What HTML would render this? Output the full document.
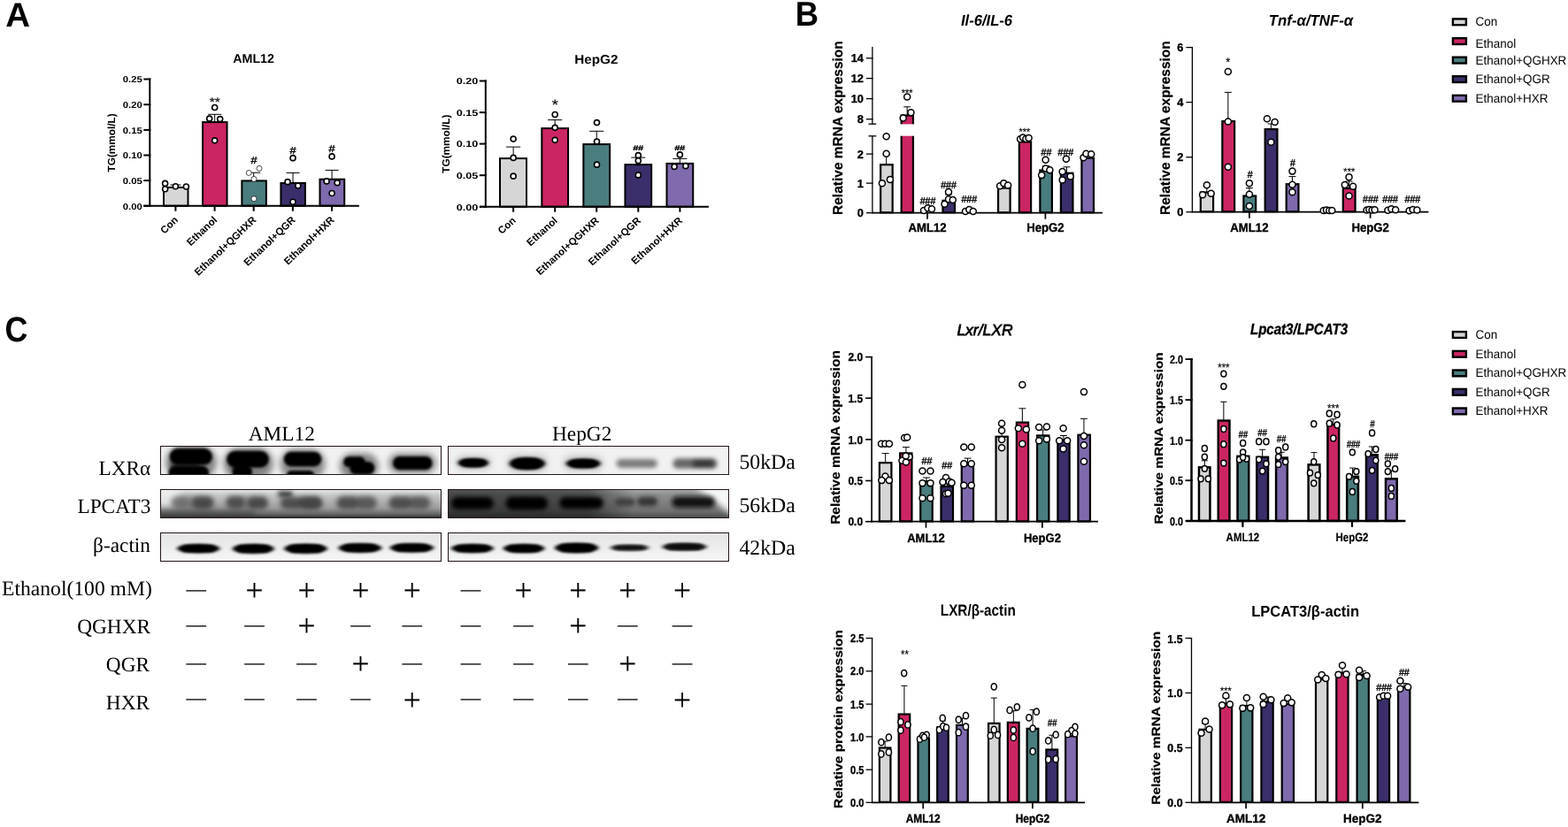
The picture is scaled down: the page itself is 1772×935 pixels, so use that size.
<!DOCTYPE html>
<html lang="en"><head><meta charset="utf-8"><title>Figure</title>
<style>
html,body{margin:0;padding:0;background:#fff;}
body{width:1772px;height:935px;overflow:hidden;}
svg{display:block;}
text{white-space:pre;text-rendering:geometricPrecision;}
</style></head>
<body>
<svg width="1772" height="935" viewBox="0 0 1772 935">
<rect x="0" y="0" width="1772" height="935" fill="#ffffff"/>
<text x="6.20" y="30.00" font-family="'Liberation Sans', sans-serif" font-size="38.5" font-weight="bold" font-style="normal" text-anchor="start" fill="#000">A</text>
<text x="0.00" y="0.00" font-family="'Liberation Sans', sans-serif" font-size="39" font-weight="bold" font-style="normal" text-anchor="start" fill="#000" transform="translate(898.80 29.20) scale(0.936 1)">B</text>
<text x="0.00" y="0.00" font-family="'Liberation Sans', sans-serif" font-size="39.8" font-weight="bold" font-style="normal" text-anchor="start" fill="#000" transform="translate(5.60 385.70) scale(0.9 1)">C</text>
<rect x="185.01" y="211.90" width="27.49" height="20.80" fill="#d6d6d6" stroke="#000" stroke-width="2"/>
<rect x="229.06" y="138.10" width="27.49" height="94.60" fill="#cc2563" stroke="#000" stroke-width="2"/>
<rect x="273.37" y="204.40" width="27.49" height="28.30" fill="#4a7d7e" stroke="#000" stroke-width="2"/>
<rect x="317.42" y="206.90" width="27.49" height="25.80" fill="#3b2e6b" stroke="#000" stroke-width="2"/>
<rect x="361.48" y="202.70" width="27.74" height="30.00" fill="#7f6aae" stroke="#000" stroke-width="2"/>
<line x1="198.37" y1="209.00" x2="198.37" y2="211.00" stroke="#000" stroke-width="1.0" stroke-linecap="butt"/>
<line x1="192.37" y1="209.00" x2="204.37" y2="209.00" stroke="#000" stroke-width="1.0" stroke-linecap="butt"/>
<line x1="242.68" y1="129.30" x2="242.68" y2="138.00" stroke="#000" stroke-width="1.0" stroke-linecap="butt"/>
<line x1="235.18" y1="129.30" x2="250.18" y2="129.30" stroke="#000" stroke-width="1.0" stroke-linecap="butt"/>
<line x1="286.73" y1="195.20" x2="286.73" y2="204.00" stroke="#000" stroke-width="1.0" stroke-linecap="butt"/>
<line x1="279.23" y1="195.20" x2="294.23" y2="195.20" stroke="#000" stroke-width="1.0" stroke-linecap="butt"/>
<line x1="331.04" y1="195.40" x2="331.04" y2="206.00" stroke="#000" stroke-width="1.0" stroke-linecap="butt"/>
<line x1="323.54" y1="195.40" x2="338.54" y2="195.40" stroke="#000" stroke-width="1.0" stroke-linecap="butt"/>
<line x1="375.09" y1="192.40" x2="375.09" y2="202.00" stroke="#000" stroke-width="1.0" stroke-linecap="butt"/>
<line x1="367.59" y1="192.40" x2="382.59" y2="192.40" stroke="#000" stroke-width="1.0" stroke-linecap="butt"/>
<line x1="169.30" y1="88.50" x2="169.30" y2="233.70" stroke="#000" stroke-width="2" stroke-linecap="butt"/>
<line x1="162.30" y1="232.70" x2="405.90" y2="232.70" stroke="#000" stroke-width="2" stroke-linecap="butt"/>
<line x1="162.30" y1="89.50" x2="170.30" y2="89.50" stroke="#000" stroke-width="2" stroke-linecap="butt"/>
<text x="160.80" y="93.30" font-family="'Liberation Sans', sans-serif" font-size="10" font-weight="bold" font-style="normal" text-anchor="end" fill="#000" textLength="22.00" lengthAdjust="spacingAndGlyphs">0.25</text>
<line x1="162.30" y1="118.20" x2="170.30" y2="118.20" stroke="#000" stroke-width="2" stroke-linecap="butt"/>
<text x="160.80" y="122.00" font-family="'Liberation Sans', sans-serif" font-size="10" font-weight="bold" font-style="normal" text-anchor="end" fill="#000" textLength="22.00" lengthAdjust="spacingAndGlyphs">0.20</text>
<line x1="162.30" y1="146.90" x2="170.30" y2="146.90" stroke="#000" stroke-width="2" stroke-linecap="butt"/>
<text x="160.80" y="150.70" font-family="'Liberation Sans', sans-serif" font-size="10" font-weight="bold" font-style="normal" text-anchor="end" fill="#000" textLength="22.00" lengthAdjust="spacingAndGlyphs">0.15</text>
<line x1="162.30" y1="175.50" x2="170.30" y2="175.50" stroke="#000" stroke-width="2" stroke-linecap="butt"/>
<text x="160.80" y="179.30" font-family="'Liberation Sans', sans-serif" font-size="10" font-weight="bold" font-style="normal" text-anchor="end" fill="#000" textLength="22.00" lengthAdjust="spacingAndGlyphs">0.10</text>
<line x1="162.30" y1="204.10" x2="170.30" y2="204.10" stroke="#000" stroke-width="2" stroke-linecap="butt"/>
<text x="160.80" y="207.90" font-family="'Liberation Sans', sans-serif" font-size="10" font-weight="bold" font-style="normal" text-anchor="end" fill="#000" textLength="22.00" lengthAdjust="spacingAndGlyphs">0.05</text>
<line x1="162.30" y1="232.70" x2="170.30" y2="232.70" stroke="#000" stroke-width="2" stroke-linecap="butt"/>
<text x="160.80" y="236.50" font-family="'Liberation Sans', sans-serif" font-size="10" font-weight="bold" font-style="normal" text-anchor="end" fill="#000" textLength="22.00" lengthAdjust="spacingAndGlyphs">0.00</text>
<line x1="198.40" y1="232.70" x2="198.40" y2="238.70" stroke="#000" stroke-width="2" stroke-linecap="butt"/>
<line x1="242.60" y1="232.70" x2="242.60" y2="238.70" stroke="#000" stroke-width="2" stroke-linecap="butt"/>
<line x1="286.70" y1="232.70" x2="286.70" y2="238.70" stroke="#000" stroke-width="2" stroke-linecap="butt"/>
<line x1="330.90" y1="232.70" x2="330.90" y2="238.70" stroke="#000" stroke-width="2" stroke-linecap="butt"/>
<line x1="375.00" y1="232.70" x2="375.00" y2="238.70" stroke="#000" stroke-width="2" stroke-linecap="butt"/>
<ellipse cx="186.61" cy="207.42" rx="3.00" ry="3.00" fill="#fff" stroke="#000" stroke-width="1.6"/>
<ellipse cx="186.61" cy="213.68" rx="3.00" ry="3.00" fill="#fff" stroke="#000" stroke-width="1.6"/>
<ellipse cx="198.37" cy="210.68" rx="3.00" ry="3.00" fill="#fff" stroke="#000" stroke-width="1.6"/>
<ellipse cx="210.39" cy="210.93" rx="3.00" ry="3.00" fill="#fff" stroke="#000" stroke-width="1.6"/>
<ellipse cx="242.68" cy="121.56" rx="3.00" ry="3.00" fill="#fff" stroke="#000" stroke-width="1.6"/>
<ellipse cx="236.67" cy="134.08" rx="3.00" ry="3.00" fill="#fff" stroke="#000" stroke-width="1.6"/>
<ellipse cx="248.69" cy="134.58" rx="3.00" ry="3.00" fill="#fff" stroke="#000" stroke-width="1.6"/>
<ellipse cx="242.68" cy="158.86" rx="3.00" ry="3.00" fill="#fff" stroke="#000" stroke-width="1.6"/>
<ellipse cx="281.23" cy="195.41" rx="3.00" ry="3.00" fill="#fff" stroke="#000" stroke-width="0.7"/>
<ellipse cx="292.99" cy="190.40" rx="3.00" ry="3.00" fill="#fff" stroke="#000" stroke-width="0.7"/>
<ellipse cx="286.98" cy="202.42" rx="3.00" ry="3.00" fill="#fff" stroke="#000" stroke-width="0.7"/>
<ellipse cx="286.98" cy="224.69" rx="3.00" ry="3.00" fill="#fff" stroke="#000" stroke-width="0.7"/>
<ellipse cx="331.04" cy="178.64" rx="3.00" ry="3.00" fill="#fff" stroke="#000" stroke-width="1.6"/>
<ellipse cx="325.03" cy="205.67" rx="3.00" ry="3.00" fill="#fff" stroke="#000" stroke-width="1.6"/>
<ellipse cx="336.80" cy="209.92" rx="3.00" ry="3.00" fill="#fff" stroke="#000" stroke-width="1.6"/>
<ellipse cx="331.04" cy="228.20" rx="3.00" ry="3.00" fill="#fff" stroke="#000" stroke-width="1.6"/>
<ellipse cx="375.09" cy="176.88" rx="3.00" ry="3.00" fill="#fff" stroke="#000" stroke-width="1.6"/>
<ellipse cx="369.09" cy="204.92" rx="3.00" ry="3.00" fill="#fff" stroke="#000" stroke-width="1.6"/>
<ellipse cx="381.10" cy="206.67" rx="3.00" ry="3.00" fill="#fff" stroke="#000" stroke-width="1.6"/>
<ellipse cx="375.09" cy="218.44" rx="3.00" ry="3.00" fill="#fff" stroke="#000" stroke-width="1.6"/>
<text x="0.00" y="0.00" font-family="'Liberation Sans', sans-serif" font-size="14.0" font-weight="normal" font-style="normal" text-anchor="middle" fill="#000" transform="translate(242.68 119.86) scale(1.1 1)" stroke="#000" stroke-width="0.15">**</text>
<text x="0.00" y="0.00" font-family="'Liberation Sans', sans-serif" font-size="11.5" font-weight="normal" font-style="normal" text-anchor="middle" fill="#000" transform="translate(286.98 185.14) scale(1.1 1)" stroke="#000" stroke-width="0.4">#</text>
<text x="0.00" y="0.00" font-family="'Liberation Sans', sans-serif" font-size="11.5" font-weight="normal" font-style="normal" text-anchor="middle" fill="#000" transform="translate(331.04 173.63) scale(1.1 1)" stroke="#000" stroke-width="0.4">#</text>
<text x="0.00" y="0.00" font-family="'Liberation Sans', sans-serif" font-size="11.5" font-weight="normal" font-style="normal" text-anchor="middle" fill="#000" transform="translate(375.09 172.13) scale(1.1 1)" stroke="#000" stroke-width="0.4">#</text>
<text x="286.60" y="70.90" font-family="'Liberation Sans', sans-serif" font-size="14.3" font-weight="bold" font-style="normal" text-anchor="middle" fill="#000">AML12</text>
<text x="0.00" y="0.00" font-family="'Liberation Sans', sans-serif" font-size="11.8" font-weight="bold" font-style="normal" text-anchor="middle" fill="#000" transform="translate(130.30 161.40) rotate(-90)">TG(mmol/L)</text>
<text x="0.00" y="0.00" font-family="'Liberation Sans', sans-serif" font-size="11.5" font-weight="bold" font-style="normal" text-anchor="end" fill="#000" transform="translate(201.90 249.50) rotate(-43.6)">Con</text>
<text x="0.00" y="0.00" font-family="'Liberation Sans', sans-serif" font-size="11.5" font-weight="bold" font-style="normal" text-anchor="end" fill="#000" transform="translate(246.10 249.50) rotate(-43.6)">Ethanol</text>
<text x="0.00" y="0.00" font-family="'Liberation Sans', sans-serif" font-size="11.5" font-weight="bold" font-style="normal" text-anchor="end" fill="#000" transform="translate(290.20 249.50) rotate(-43.6)">Ethanol+QGHXR</text>
<text x="0.00" y="0.00" font-family="'Liberation Sans', sans-serif" font-size="11.5" font-weight="bold" font-style="normal" text-anchor="end" fill="#000" transform="translate(334.40 249.50) rotate(-43.6)">Ethanol+QGR</text>
<text x="0.00" y="0.00" font-family="'Liberation Sans', sans-serif" font-size="11.5" font-weight="bold" font-style="normal" text-anchor="end" fill="#000" transform="translate(378.50 249.50) rotate(-43.6)">Ethanol+HXR</text>
<rect x="565.01" y="179.10" width="29.99" height="54.60" fill="#d6d6d6" stroke="#000" stroke-width="2"/>
<rect x="612.31" y="145.10" width="29.74" height="88.60" fill="#cc2563" stroke="#000" stroke-width="2"/>
<rect x="659.37" y="163.10" width="29.74" height="70.60" fill="#4a7d7e" stroke="#000" stroke-width="2"/>
<rect x="706.43" y="186.10" width="29.74" height="47.60" fill="#3b2e6b" stroke="#000" stroke-width="2"/>
<rect x="753.49" y="184.90" width="29.74" height="48.80" fill="#7f6aae" stroke="#000" stroke-width="2"/>
<line x1="580.13" y1="166.10" x2="580.13" y2="179.00" stroke="#000" stroke-width="1.0" stroke-linecap="butt"/>
<line x1="572.13" y1="166.10" x2="588.13" y2="166.10" stroke="#000" stroke-width="1.0" stroke-linecap="butt"/>
<line x1="627.18" y1="135.60" x2="627.18" y2="145.00" stroke="#000" stroke-width="1.0" stroke-linecap="butt"/>
<line x1="619.18" y1="135.60" x2="635.18" y2="135.60" stroke="#000" stroke-width="1.0" stroke-linecap="butt"/>
<line x1="674.24" y1="148.30" x2="674.24" y2="163.00" stroke="#000" stroke-width="1.0" stroke-linecap="butt"/>
<line x1="666.24" y1="148.30" x2="682.24" y2="148.30" stroke="#000" stroke-width="1.0" stroke-linecap="butt"/>
<line x1="721.30" y1="178.10" x2="721.30" y2="186.00" stroke="#000" stroke-width="1.0" stroke-linecap="butt"/>
<line x1="713.30" y1="178.10" x2="729.30" y2="178.10" stroke="#000" stroke-width="1.0" stroke-linecap="butt"/>
<line x1="768.36" y1="179.40" x2="768.36" y2="185.00" stroke="#000" stroke-width="1.0" stroke-linecap="butt"/>
<line x1="760.36" y1="179.40" x2="776.36" y2="179.40" stroke="#000" stroke-width="1.0" stroke-linecap="butt"/>
<line x1="548.80" y1="90.50" x2="548.80" y2="234.70" stroke="#000" stroke-width="2" stroke-linecap="butt"/>
<line x1="542.00" y1="233.70" x2="800.90" y2="233.70" stroke="#000" stroke-width="2" stroke-linecap="butt"/>
<line x1="541.80" y1="91.50" x2="549.80" y2="91.50" stroke="#000" stroke-width="2" stroke-linecap="butt"/>
<text x="540.30" y="95.30" font-family="'Liberation Sans', sans-serif" font-size="10" font-weight="bold" font-style="normal" text-anchor="end" fill="#000" textLength="24.60" lengthAdjust="spacingAndGlyphs">0.20</text>
<line x1="541.80" y1="127.10" x2="549.80" y2="127.10" stroke="#000" stroke-width="2" stroke-linecap="butt"/>
<text x="540.30" y="130.90" font-family="'Liberation Sans', sans-serif" font-size="10" font-weight="bold" font-style="normal" text-anchor="end" fill="#000" textLength="24.60" lengthAdjust="spacingAndGlyphs">0.15</text>
<line x1="541.80" y1="162.60" x2="549.80" y2="162.60" stroke="#000" stroke-width="2" stroke-linecap="butt"/>
<text x="540.30" y="166.40" font-family="'Liberation Sans', sans-serif" font-size="10" font-weight="bold" font-style="normal" text-anchor="end" fill="#000" textLength="24.60" lengthAdjust="spacingAndGlyphs">0.10</text>
<line x1="541.80" y1="198.20" x2="549.80" y2="198.20" stroke="#000" stroke-width="2" stroke-linecap="butt"/>
<text x="540.30" y="202.00" font-family="'Liberation Sans', sans-serif" font-size="10" font-weight="bold" font-style="normal" text-anchor="end" fill="#000" textLength="24.60" lengthAdjust="spacingAndGlyphs">0.05</text>
<line x1="541.80" y1="233.70" x2="549.80" y2="233.70" stroke="#000" stroke-width="2" stroke-linecap="butt"/>
<text x="540.30" y="237.50" font-family="'Liberation Sans', sans-serif" font-size="10" font-weight="bold" font-style="normal" text-anchor="end" fill="#000" textLength="24.60" lengthAdjust="spacingAndGlyphs">0.00</text>
<line x1="580.10" y1="233.70" x2="580.10" y2="239.70" stroke="#000" stroke-width="2" stroke-linecap="butt"/>
<line x1="627.20" y1="233.70" x2="627.20" y2="239.70" stroke="#000" stroke-width="2" stroke-linecap="butt"/>
<line x1="674.20" y1="233.70" x2="674.20" y2="239.70" stroke="#000" stroke-width="2" stroke-linecap="butt"/>
<line x1="721.30" y1="233.70" x2="721.30" y2="239.70" stroke="#000" stroke-width="2" stroke-linecap="butt"/>
<line x1="768.40" y1="233.70" x2="768.40" y2="239.70" stroke="#000" stroke-width="2" stroke-linecap="butt"/>
<ellipse cx="580.13" cy="157.11" rx="3.00" ry="3.00" fill="#fff" stroke="#000" stroke-width="1.6"/>
<ellipse cx="580.13" cy="178.39" rx="3.00" ry="3.00" fill="#fff" stroke="#000" stroke-width="1.6"/>
<ellipse cx="580.13" cy="199.16" rx="3.00" ry="3.00" fill="#fff" stroke="#000" stroke-width="1.6"/>
<ellipse cx="627.18" cy="129.57" rx="3.00" ry="3.00" fill="#fff" stroke="#000" stroke-width="1.6"/>
<ellipse cx="627.18" cy="144.34" rx="3.00" ry="3.00" fill="#fff" stroke="#000" stroke-width="1.6"/>
<ellipse cx="627.18" cy="158.36" rx="3.00" ry="3.00" fill="#fff" stroke="#000" stroke-width="1.6"/>
<ellipse cx="674.49" cy="138.59" rx="3.00" ry="3.00" fill="#fff" stroke="#000" stroke-width="1.6"/>
<ellipse cx="674.49" cy="160.11" rx="3.00" ry="3.00" fill="#fff" stroke="#000" stroke-width="1.6"/>
<ellipse cx="674.49" cy="186.15" rx="3.00" ry="3.00" fill="#fff" stroke="#000" stroke-width="1.6"/>
<ellipse cx="721.30" cy="175.63" rx="3.00" ry="3.00" fill="#fff" stroke="#000" stroke-width="1.6"/>
<ellipse cx="721.30" cy="181.64" rx="3.00" ry="3.00" fill="#fff" stroke="#000" stroke-width="1.6"/>
<ellipse cx="721.30" cy="197.91" rx="3.00" ry="3.00" fill="#fff" stroke="#000" stroke-width="1.6"/>
<ellipse cx="768.36" cy="174.88" rx="3.00" ry="3.00" fill="#fff" stroke="#000" stroke-width="1.6"/>
<ellipse cx="762.10" cy="188.40" rx="3.00" ry="3.00" fill="#fff" stroke="#000" stroke-width="1.6"/>
<ellipse cx="774.87" cy="187.65" rx="3.00" ry="3.00" fill="#fff" stroke="#000" stroke-width="1.6"/>
<text x="0.00" y="0.00" font-family="'Liberation Sans', sans-serif" font-size="16.52" font-weight="normal" font-style="normal" text-anchor="middle" fill="#000" transform="translate(627.18 124.12) scale(1.1 1)" stroke="#000" stroke-width="0.15">*</text>
<text x="0.00" y="0.00" font-family="'Liberation Sans', sans-serif" font-size="8" font-weight="normal" font-style="normal" text-anchor="middle" fill="#000" transform="translate(721.30 170.13) scale(1.3 1)" stroke="#000" stroke-width="0.4">##</text>
<text x="0.00" y="0.00" font-family="'Liberation Sans', sans-serif" font-size="8" font-weight="normal" font-style="normal" text-anchor="middle" fill="#000" transform="translate(768.36 170.13) scale(1.3 1)" stroke="#000" stroke-width="0.4">##</text>
<text x="0.00" y="0.00" font-family="'Liberation Sans', sans-serif" font-size="14.3" font-weight="bold" font-style="normal" text-anchor="middle" fill="#000" transform="translate(673.80 71.50) scale(1.07 1)">HepG2</text>
<text x="0.00" y="0.00" font-family="'Liberation Sans', sans-serif" font-size="11.8" font-weight="bold" font-style="normal" text-anchor="middle" fill="#000" transform="translate(508.30 162.60) rotate(-90)">TG(mmol/L)</text>
<text x="0.00" y="0.00" font-family="'Liberation Sans', sans-serif" font-size="11.5" font-weight="bold" font-style="normal" text-anchor="end" fill="#000" transform="translate(583.60 250.30) rotate(-42.3)">Con</text>
<text x="0.00" y="0.00" font-family="'Liberation Sans', sans-serif" font-size="11.5" font-weight="bold" font-style="normal" text-anchor="end" fill="#000" transform="translate(630.70 250.30) rotate(-42.3)">Ethanol</text>
<text x="0.00" y="0.00" font-family="'Liberation Sans', sans-serif" font-size="11.5" font-weight="bold" font-style="normal" text-anchor="end" fill="#000" transform="translate(677.70 250.30) rotate(-42.3)">Ethanol+QGHXR</text>
<text x="0.00" y="0.00" font-family="'Liberation Sans', sans-serif" font-size="11.5" font-weight="bold" font-style="normal" text-anchor="end" fill="#000" transform="translate(724.80 250.30) rotate(-42.3)">Ethanol+QGR</text>
<text x="0.00" y="0.00" font-family="'Liberation Sans', sans-serif" font-size="11.5" font-weight="bold" font-style="normal" text-anchor="end" fill="#000" transform="translate(771.90 250.30) rotate(-42.3)">Ethanol+HXR</text>
<rect x="995.14" y="186.20" width="13.52" height="54.05" fill="#d6d6d6" stroke="#000" stroke-width="2.2"/>
<rect x="1018.67" y="130.50" width="13.27" height="109.75" fill="#cc2563" stroke="#000" stroke-width="2.2"/>
<rect x="1065.48" y="226.80" width="13.52" height="13.45" fill="#3b2e6b" stroke="#000" stroke-width="2.2"/>
<rect x="1128.06" y="212.50" width="13.52" height="27.75" fill="#d6d6d6" stroke="#000" stroke-width="2.2"/>
<rect x="1151.84" y="160.40" width="13.27" height="79.85" fill="#cc2563" stroke="#000" stroke-width="2.2"/>
<rect x="1175.37" y="192.50" width="13.52" height="47.75" fill="#4a7d7e" stroke="#000" stroke-width="2.2"/>
<rect x="1198.90" y="195.70" width="13.52" height="44.55" fill="#3b2e6b" stroke="#000" stroke-width="2.2"/>
<rect x="1222.43" y="178.70" width="13.52" height="61.55" fill="#7f6aae" stroke="#000" stroke-width="2.2"/>
<rect x="1015.00" y="140.40" width="20.00" height="13.30" fill="#fff" stroke="none" stroke-width="0"/>
<line x1="1001.65" y1="175.00" x2="1001.65" y2="186.00" stroke="#000" stroke-width="1.0" stroke-linecap="butt"/>
<line x1="997.65" y1="175.00" x2="1005.65" y2="175.00" stroke="#000" stroke-width="1.0" stroke-linecap="butt"/>
<line x1="1025.18" y1="120.80" x2="1025.18" y2="130.00" stroke="#000" stroke-width="1.0" stroke-linecap="butt"/>
<line x1="1021.18" y1="120.80" x2="1029.18" y2="120.80" stroke="#000" stroke-width="1.0" stroke-linecap="butt"/>
<line x1="1182.13" y1="187.50" x2="1182.13" y2="192.00" stroke="#000" stroke-width="1.0" stroke-linecap="butt"/>
<line x1="1178.13" y1="187.50" x2="1186.13" y2="187.50" stroke="#000" stroke-width="1.0" stroke-linecap="butt"/>
<line x1="1205.41" y1="188.80" x2="1205.41" y2="195.00" stroke="#000" stroke-width="1.0" stroke-linecap="butt"/>
<line x1="1201.41" y1="188.80" x2="1209.41" y2="188.80" stroke="#000" stroke-width="1.0" stroke-linecap="butt"/>
<line x1="1071.99" y1="220.00" x2="1071.99" y2="226.00" stroke="#000" stroke-width="1.0" stroke-linecap="butt"/>
<line x1="1067.99" y1="220.00" x2="1075.99" y2="220.00" stroke="#000" stroke-width="1.0" stroke-linecap="butt"/>
<line x1="985.90" y1="53.00" x2="985.90" y2="140.20" stroke="#000" stroke-width="1.3" stroke-linecap="butt"/>
<line x1="985.90" y1="153.80" x2="985.90" y2="241.30" stroke="#000" stroke-width="1.3" stroke-linecap="butt"/>
<line x1="985.25" y1="240.70" x2="1246.00" y2="240.70" stroke="#000" stroke-width="1.7" stroke-linecap="butt"/>
<line x1="978.90" y1="65.80" x2="986.55" y2="65.80" stroke="#000" stroke-width="1.3" stroke-linecap="butt"/>
<text x="975.90" y="70.40" font-family="'Liberation Sans', sans-serif" font-size="12.8" font-weight="bold" font-style="normal" text-anchor="end" fill="#000" stroke="#000" stroke-width="0.35">14</text>
<line x1="978.90" y1="88.60" x2="986.55" y2="88.60" stroke="#000" stroke-width="1.3" stroke-linecap="butt"/>
<text x="975.90" y="93.20" font-family="'Liberation Sans', sans-serif" font-size="12.8" font-weight="bold" font-style="normal" text-anchor="end" fill="#000" stroke="#000" stroke-width="0.35">12</text>
<line x1="978.90" y1="111.60" x2="986.55" y2="111.60" stroke="#000" stroke-width="1.3" stroke-linecap="butt"/>
<text x="975.90" y="116.20" font-family="'Liberation Sans', sans-serif" font-size="12.8" font-weight="bold" font-style="normal" text-anchor="end" fill="#000" stroke="#000" stroke-width="0.35">10</text>
<line x1="978.90" y1="134.70" x2="986.55" y2="134.70" stroke="#000" stroke-width="1.3" stroke-linecap="butt"/>
<text x="975.90" y="139.30" font-family="'Liberation Sans', sans-serif" font-size="12.8" font-weight="bold" font-style="normal" text-anchor="end" fill="#000" stroke="#000" stroke-width="0.35">8</text>
<line x1="981.50" y1="140.20" x2="990.30" y2="140.20" stroke="#000" stroke-width="1.3" stroke-linecap="butt"/>
<line x1="981.50" y1="153.80" x2="990.30" y2="153.80" stroke="#000" stroke-width="1.3" stroke-linecap="butt"/>
<line x1="978.90" y1="174.10" x2="986.55" y2="174.10" stroke="#000" stroke-width="1.3" stroke-linecap="butt"/>
<text x="975.90" y="178.70" font-family="'Liberation Sans', sans-serif" font-size="12.8" font-weight="bold" font-style="normal" text-anchor="end" fill="#000" stroke="#000" stroke-width="0.35">2</text>
<line x1="978.90" y1="207.10" x2="986.55" y2="207.10" stroke="#000" stroke-width="1.3" stroke-linecap="butt"/>
<text x="975.90" y="211.70" font-family="'Liberation Sans', sans-serif" font-size="12.8" font-weight="bold" font-style="normal" text-anchor="end" fill="#000" stroke="#000" stroke-width="0.35">1</text>
<line x1="978.90" y1="240.70" x2="986.55" y2="240.70" stroke="#000" stroke-width="1.3" stroke-linecap="butt"/>
<text x="975.90" y="245.30" font-family="'Liberation Sans', sans-serif" font-size="12.8" font-weight="bold" font-style="normal" text-anchor="end" fill="#000" stroke="#000" stroke-width="0.35">0</text>
<line x1="1048.00" y1="240.70" x2="1048.00" y2="247.70" stroke="#000" stroke-width="1.7" stroke-linecap="butt"/>
<line x1="1181.40" y1="240.70" x2="1181.40" y2="247.70" stroke="#000" stroke-width="1.7" stroke-linecap="butt"/>
<ellipse cx="1001.65" cy="154.32" rx="3.50" ry="3.50" fill="#fff" stroke="#000" stroke-width="1.5"/>
<ellipse cx="1001.65" cy="173.84" rx="3.50" ry="3.50" fill="#fff" stroke="#000" stroke-width="1.5"/>
<ellipse cx="996.90" cy="207.13" rx="3.50" ry="3.50" fill="#fff" stroke="#000" stroke-width="1.5"/>
<ellipse cx="1005.91" cy="202.88" rx="3.50" ry="3.50" fill="#fff" stroke="#000" stroke-width="1.5"/>
<ellipse cx="1025.18" cy="109.39" rx="3.50" ry="3.50" fill="#fff" stroke="#000" stroke-width="1.5"/>
<ellipse cx="1020.68" cy="133.42" rx="3.50" ry="3.50" fill="#fff" stroke="#000" stroke-width="1.5"/>
<ellipse cx="1029.44" cy="127.16" rx="3.50" ry="3.50" fill="#fff" stroke="#000" stroke-width="1.5"/>
<ellipse cx="1043.95" cy="237.92" rx="3.50" ry="3.50" fill="#fff" stroke="#000" stroke-width="1.5"/>
<ellipse cx="1048.46" cy="235.17" rx="3.50" ry="3.50" fill="#fff" stroke="#000" stroke-width="1.5"/>
<ellipse cx="1052.97" cy="236.17" rx="3.50" ry="3.50" fill="#fff" stroke="#000" stroke-width="1.5"/>
<ellipse cx="1071.99" cy="216.90" rx="3.50" ry="3.50" fill="#fff" stroke="#000" stroke-width="1.5"/>
<ellipse cx="1067.48" cy="230.66" rx="3.50" ry="3.50" fill="#fff" stroke="#000" stroke-width="1.5"/>
<ellipse cx="1071.99" cy="225.16" rx="3.50" ry="3.50" fill="#fff" stroke="#000" stroke-width="1.5"/>
<ellipse cx="1076.75" cy="225.91" rx="3.50" ry="3.50" fill="#fff" stroke="#000" stroke-width="1.5"/>
<ellipse cx="1091.01" cy="238.92" rx="3.50" ry="3.50" fill="#fff" stroke="#000" stroke-width="1.5"/>
<ellipse cx="1095.27" cy="236.92" rx="3.50" ry="3.50" fill="#fff" stroke="#000" stroke-width="1.5"/>
<ellipse cx="1099.77" cy="238.92" rx="3.50" ry="3.50" fill="#fff" stroke="#000" stroke-width="1.5"/>
<ellipse cx="1130.06" cy="210.14" rx="3.50" ry="3.50" fill="#fff" stroke="#000" stroke-width="1.5"/>
<ellipse cx="1134.32" cy="207.13" rx="3.50" ry="3.50" fill="#fff" stroke="#000" stroke-width="1.5"/>
<ellipse cx="1139.07" cy="209.39" rx="3.50" ry="3.50" fill="#fff" stroke="#000" stroke-width="1.5"/>
<ellipse cx="1153.09" cy="157.32" rx="3.50" ry="3.50" fill="#fff" stroke="#000" stroke-width="1.5"/>
<ellipse cx="1156.10" cy="155.57" rx="3.50" ry="3.50" fill="#fff" stroke="#000" stroke-width="1.5"/>
<ellipse cx="1159.35" cy="157.07" rx="3.50" ry="3.50" fill="#fff" stroke="#000" stroke-width="1.5"/>
<ellipse cx="1162.60" cy="156.07" rx="3.50" ry="3.50" fill="#fff" stroke="#000" stroke-width="1.5"/>
<ellipse cx="1181.63" cy="180.85" rx="3.50" ry="3.50" fill="#fff" stroke="#000" stroke-width="1.5"/>
<ellipse cx="1177.12" cy="198.12" rx="3.50" ry="3.50" fill="#fff" stroke="#000" stroke-width="1.5"/>
<ellipse cx="1181.63" cy="190.61" rx="3.50" ry="3.50" fill="#fff" stroke="#000" stroke-width="1.5"/>
<ellipse cx="1186.38" cy="192.37" rx="3.50" ry="3.50" fill="#fff" stroke="#000" stroke-width="1.5"/>
<ellipse cx="1204.91" cy="179.85" rx="3.50" ry="3.50" fill="#fff" stroke="#000" stroke-width="1.5"/>
<ellipse cx="1200.65" cy="194.12" rx="3.50" ry="3.50" fill="#fff" stroke="#000" stroke-width="1.5"/>
<ellipse cx="1200.65" cy="203.38" rx="3.50" ry="3.50" fill="#fff" stroke="#000" stroke-width="1.5"/>
<ellipse cx="1209.66" cy="199.62" rx="3.50" ry="3.50" fill="#fff" stroke="#000" stroke-width="1.5"/>
<ellipse cx="1224.43" cy="178.35" rx="3.50" ry="3.50" fill="#fff" stroke="#000" stroke-width="1.5"/>
<ellipse cx="1227.43" cy="173.84" rx="3.50" ry="3.50" fill="#fff" stroke="#000" stroke-width="1.5"/>
<ellipse cx="1233.19" cy="174.34" rx="3.50" ry="3.50" fill="#fff" stroke="#000" stroke-width="1.5"/>
<text x="0.00" y="0.00" font-family="'Liberation Sans', sans-serif" font-size="12.0" font-weight="normal" font-style="normal" text-anchor="middle" fill="#000" transform="translate(1025.18 109.38) scale(0.92 1)" stroke="#000" stroke-width="0.15">***</text>
<text x="0.00" y="0.00" font-family="'Liberation Sans', sans-serif" font-size="11.5" font-weight="normal" font-style="normal" text-anchor="middle" fill="#000" transform="translate(1048.46 231.36) scale(0.92 1)" stroke="#000" stroke-width="0.4">###</text>
<text x="0.00" y="0.00" font-family="'Liberation Sans', sans-serif" font-size="11.5" font-weight="normal" font-style="normal" text-anchor="middle" fill="#000" transform="translate(1071.99 213.09) scale(0.92 1)" stroke="#000" stroke-width="0.4">###</text>
<text x="0.00" y="0.00" font-family="'Liberation Sans', sans-serif" font-size="11.5" font-weight="normal" font-style="normal" text-anchor="middle" fill="#000" transform="translate(1095.27 229.11) scale(0.92 1)" stroke="#000" stroke-width="0.4">###</text>
<text x="0.00" y="0.00" font-family="'Liberation Sans', sans-serif" font-size="12.0" font-weight="normal" font-style="normal" text-anchor="middle" fill="#000" transform="translate(1157.85 153.06) scale(0.92 1)" stroke="#000" stroke-width="0.15">***</text>
<text x="0.00" y="0.00" font-family="'Liberation Sans', sans-serif" font-size="11.5" font-weight="normal" font-style="normal" text-anchor="middle" fill="#000" transform="translate(1182.38 175.54) scale(0.92 1)" stroke="#000" stroke-width="0.4">##</text>
<text x="0.00" y="0.00" font-family="'Liberation Sans', sans-serif" font-size="11.5" font-weight="normal" font-style="normal" text-anchor="middle" fill="#000" transform="translate(1204.41 175.54) scale(0.92 1)" stroke="#000" stroke-width="0.4">###</text>
<text x="0.00" y="0.00" font-family="'Liberation Sans', sans-serif" font-size="17.5" font-weight="bold" font-style="italic" text-anchor="middle" fill="#000" transform="translate(1115.00 29.30) scale(0.95 1)">Il-6/IL-6</text>
<text x="0.00" y="0.00" font-family="'Liberation Sans', sans-serif" font-size="15.5" font-weight="bold" font-style="normal" text-anchor="middle" fill="#000" transform="translate(952.30 144.60) rotate(-90)" stroke="#000" stroke-width="0.2">Relative mRNA expression</text>
<text x="0.00" y="0.00" font-family="'Liberation Sans', sans-serif" font-size="14" font-weight="bold" font-style="normal" text-anchor="middle" fill="#000" transform="translate(1048.00 262.10) scale(0.94 1)" stroke="#000" stroke-width="0.35">AML12</text>
<text x="0.00" y="0.00" font-family="'Liberation Sans', sans-serif" font-size="14" font-weight="bold" font-style="normal" text-anchor="middle" fill="#000" transform="translate(1181.40 262.10) scale(0.94 1)" stroke="#000" stroke-width="0.35">HepG2</text>
<rect x="1356.83" y="217.50" width="14.27" height="21.75" fill="#d6d6d6" stroke="#000" stroke-width="2.2"/>
<rect x="1381.36" y="137.10" width="13.77" height="102.15" fill="#cc2563" stroke="#000" stroke-width="2.2"/>
<rect x="1405.39" y="221.50" width="13.77" height="17.75" fill="#4a7d7e" stroke="#000" stroke-width="2.2"/>
<rect x="1429.67" y="146.10" width="13.77" height="93.15" fill="#3b2e6b" stroke="#000" stroke-width="2.2"/>
<rect x="1453.70" y="208.20" width="13.77" height="31.05" fill="#7f6aae" stroke="#000" stroke-width="2.2"/>
<rect x="1517.78" y="213.00" width="13.77" height="26.25" fill="#cc2563" stroke="#000" stroke-width="2.2"/>
<line x1="1363.84" y1="210.00" x2="1363.84" y2="217.00" stroke="#000" stroke-width="1.0" stroke-linecap="butt"/>
<line x1="1359.84" y1="210.00" x2="1367.84" y2="210.00" stroke="#000" stroke-width="1.0" stroke-linecap="butt"/>
<line x1="1387.87" y1="104.40" x2="1387.87" y2="137.00" stroke="#000" stroke-width="1.0" stroke-linecap="butt"/>
<line x1="1383.87" y1="104.40" x2="1391.87" y2="104.40" stroke="#000" stroke-width="1.0" stroke-linecap="butt"/>
<line x1="1411.90" y1="212.60" x2="1411.90" y2="221.00" stroke="#000" stroke-width="1.0" stroke-linecap="butt"/>
<line x1="1407.90" y1="212.60" x2="1415.90" y2="212.60" stroke="#000" stroke-width="1.0" stroke-linecap="butt"/>
<line x1="1436.43" y1="140.00" x2="1436.43" y2="146.00" stroke="#000" stroke-width="1.0" stroke-linecap="butt"/>
<line x1="1432.43" y1="140.00" x2="1440.43" y2="140.00" stroke="#000" stroke-width="1.0" stroke-linecap="butt"/>
<line x1="1460.46" y1="199.60" x2="1460.46" y2="208.00" stroke="#000" stroke-width="1.0" stroke-linecap="butt"/>
<line x1="1456.46" y1="199.60" x2="1464.46" y2="199.60" stroke="#000" stroke-width="1.0" stroke-linecap="butt"/>
<line x1="1524.54" y1="205.00" x2="1524.54" y2="212.00" stroke="#000" stroke-width="1.0" stroke-linecap="butt"/>
<line x1="1520.54" y1="205.00" x2="1528.54" y2="205.00" stroke="#000" stroke-width="1.0" stroke-linecap="butt"/>
<line x1="1347.40" y1="53.00" x2="1347.40" y2="240.30" stroke="#000" stroke-width="1.3" stroke-linecap="butt"/>
<line x1="1346.75" y1="239.70" x2="1614.40" y2="239.70" stroke="#000" stroke-width="1.7" stroke-linecap="butt"/>
<line x1="1340.40" y1="53.60" x2="1348.05" y2="53.60" stroke="#000" stroke-width="1.3" stroke-linecap="butt"/>
<text x="1337.40" y="58.20" font-family="'Liberation Sans', sans-serif" font-size="12.8" font-weight="bold" font-style="normal" text-anchor="end" fill="#000" stroke="#000" stroke-width="0.35">6</text>
<line x1="1340.40" y1="115.60" x2="1348.05" y2="115.60" stroke="#000" stroke-width="1.3" stroke-linecap="butt"/>
<text x="1337.40" y="120.20" font-family="'Liberation Sans', sans-serif" font-size="12.8" font-weight="bold" font-style="normal" text-anchor="end" fill="#000" stroke="#000" stroke-width="0.35">4</text>
<line x1="1340.40" y1="177.70" x2="1348.05" y2="177.70" stroke="#000" stroke-width="1.3" stroke-linecap="butt"/>
<text x="1337.40" y="182.30" font-family="'Liberation Sans', sans-serif" font-size="12.8" font-weight="bold" font-style="normal" text-anchor="end" fill="#000" stroke="#000" stroke-width="0.35">2</text>
<line x1="1340.40" y1="239.70" x2="1348.05" y2="239.70" stroke="#000" stroke-width="1.3" stroke-linecap="butt"/>
<text x="1337.40" y="244.30" font-family="'Liberation Sans', sans-serif" font-size="12.8" font-weight="bold" font-style="normal" text-anchor="end" fill="#000" stroke="#000" stroke-width="0.35">0</text>
<line x1="1411.90" y1="239.70" x2="1411.90" y2="246.70" stroke="#000" stroke-width="1.7" stroke-linecap="butt"/>
<line x1="1548.60" y1="239.70" x2="1548.60" y2="246.70" stroke="#000" stroke-width="1.7" stroke-linecap="butt"/>
<ellipse cx="1363.84" cy="209.14" rx="3.50" ry="3.50" fill="#fff" stroke="#000" stroke-width="1.5"/>
<ellipse cx="1359.09" cy="220.15" rx="3.50" ry="3.50" fill="#fff" stroke="#000" stroke-width="1.5"/>
<ellipse cx="1368.60" cy="218.65" rx="3.50" ry="3.50" fill="#fff" stroke="#000" stroke-width="1.5"/>
<ellipse cx="1387.87" cy="81.10" rx="3.50" ry="3.50" fill="#fff" stroke="#000" stroke-width="1.5"/>
<ellipse cx="1387.87" cy="137.42" rx="3.50" ry="3.50" fill="#fff" stroke="#000" stroke-width="1.5"/>
<ellipse cx="1387.87" cy="188.74" rx="3.50" ry="3.50" fill="#fff" stroke="#000" stroke-width="1.5"/>
<ellipse cx="1411.90" cy="207.13" rx="3.50" ry="3.50" fill="#fff" stroke="#000" stroke-width="1.5"/>
<ellipse cx="1411.90" cy="219.65" rx="3.50" ry="3.50" fill="#fff" stroke="#000" stroke-width="1.5"/>
<ellipse cx="1411.90" cy="232.92" rx="3.50" ry="3.50" fill="#fff" stroke="#000" stroke-width="1.5"/>
<ellipse cx="1431.93" cy="134.29" rx="3.50" ry="3.50" fill="#fff" stroke="#000" stroke-width="1.5"/>
<ellipse cx="1440.69" cy="138.05" rx="3.50" ry="3.50" fill="#fff" stroke="#000" stroke-width="1.5"/>
<ellipse cx="1436.43" cy="160.83" rx="3.50" ry="3.50" fill="#fff" stroke="#000" stroke-width="1.5"/>
<ellipse cx="1460.46" cy="193.62" rx="3.50" ry="3.50" fill="#fff" stroke="#000" stroke-width="1.5"/>
<ellipse cx="1460.46" cy="208.64" rx="3.50" ry="3.50" fill="#fff" stroke="#000" stroke-width="1.5"/>
<ellipse cx="1460.46" cy="217.15" rx="3.50" ry="3.50" fill="#fff" stroke="#000" stroke-width="1.5"/>
<ellipse cx="1495.76" cy="237.92" rx="3.50" ry="3.50" fill="#fff" stroke="#000" stroke-width="1.5"/>
<ellipse cx="1499.01" cy="237.42" rx="3.50" ry="3.50" fill="#fff" stroke="#000" stroke-width="1.5"/>
<ellipse cx="1502.27" cy="237.92" rx="3.50" ry="3.50" fill="#fff" stroke="#000" stroke-width="1.5"/>
<ellipse cx="1505.27" cy="237.92" rx="3.50" ry="3.50" fill="#fff" stroke="#000" stroke-width="1.5"/>
<ellipse cx="1524.54" cy="200.13" rx="3.50" ry="3.50" fill="#fff" stroke="#000" stroke-width="1.5"/>
<ellipse cx="1519.79" cy="208.89" rx="3.50" ry="3.50" fill="#fff" stroke="#000" stroke-width="1.5"/>
<ellipse cx="1529.05" cy="210.64" rx="3.50" ry="3.50" fill="#fff" stroke="#000" stroke-width="1.5"/>
<ellipse cx="1524.54" cy="221.40" rx="3.50" ry="3.50" fill="#fff" stroke="#000" stroke-width="1.5"/>
<ellipse cx="1544.57" cy="237.42" rx="3.50" ry="3.50" fill="#fff" stroke="#000" stroke-width="1.5"/>
<ellipse cx="1547.32" cy="236.92" rx="3.50" ry="3.50" fill="#fff" stroke="#000" stroke-width="1.5"/>
<ellipse cx="1550.58" cy="237.42" rx="3.50" ry="3.50" fill="#fff" stroke="#000" stroke-width="1.5"/>
<ellipse cx="1553.58" cy="237.17" rx="3.50" ry="3.50" fill="#fff" stroke="#000" stroke-width="1.5"/>
<ellipse cx="1568.35" cy="237.67" rx="3.50" ry="3.50" fill="#fff" stroke="#000" stroke-width="1.5"/>
<ellipse cx="1572.35" cy="236.17" rx="3.50" ry="3.50" fill="#fff" stroke="#000" stroke-width="1.5"/>
<ellipse cx="1577.11" cy="237.17" rx="3.50" ry="3.50" fill="#fff" stroke="#000" stroke-width="1.5"/>
<ellipse cx="1592.63" cy="238.17" rx="3.50" ry="3.50" fill="#fff" stroke="#000" stroke-width="1.5"/>
<ellipse cx="1596.63" cy="236.92" rx="3.50" ry="3.50" fill="#fff" stroke="#000" stroke-width="1.5"/>
<ellipse cx="1601.39" cy="237.42" rx="3.50" ry="3.50" fill="#fff" stroke="#000" stroke-width="1.5"/>
<text x="0.00" y="0.00" font-family="'Liberation Sans', sans-serif" font-size="14.16" font-weight="normal" font-style="normal" text-anchor="middle" fill="#000" transform="translate(1387.87 75.14) scale(0.92 1)" stroke="#000" stroke-width="0.15">*</text>
<text x="0.00" y="0.00" font-family="'Liberation Sans', sans-serif" font-size="11.5" font-weight="normal" font-style="normal" text-anchor="middle" fill="#000" transform="translate(1412.65 200.57) scale(0.92 1)" stroke="#000" stroke-width="0.4">#</text>
<text x="0.00" y="0.00" font-family="'Liberation Sans', sans-serif" font-size="11.5" font-weight="normal" font-style="normal" text-anchor="middle" fill="#000" transform="translate(1460.96 187.56) scale(0.92 1)" stroke="#000" stroke-width="0.4">#</text>
<text x="0.00" y="0.00" font-family="'Liberation Sans', sans-serif" font-size="12.0" font-weight="normal" font-style="normal" text-anchor="middle" fill="#000" transform="translate(1524.79 197.87) scale(0.92 1)" stroke="#000" stroke-width="0.15">***</text>
<text x="0.00" y="0.00" font-family="'Liberation Sans', sans-serif" font-size="11.5" font-weight="normal" font-style="normal" text-anchor="middle" fill="#000" transform="translate(1548.82 228.61) scale(0.92 1)" stroke="#000" stroke-width="0.4">###</text>
<text x="0.00" y="0.00" font-family="'Liberation Sans', sans-serif" font-size="11.5" font-weight="normal" font-style="normal" text-anchor="middle" fill="#000" transform="translate(1571.10 228.61) scale(0.92 1)" stroke="#000" stroke-width="0.4">###</text>
<text x="0.00" y="0.00" font-family="'Liberation Sans', sans-serif" font-size="11.5" font-weight="normal" font-style="normal" text-anchor="middle" fill="#000" transform="translate(1596.38 228.61) scale(0.92 1)" stroke="#000" stroke-width="0.4">###</text>
<text x="0.00" y="0.00" font-family="'Liberation Sans', sans-serif" font-size="17.5" font-weight="bold" font-style="italic" text-anchor="middle" fill="#000" transform="translate(1481.50 29.30) scale(0.96 1)">Tnf-α/TNF-α</text>
<text x="0.00" y="0.00" font-family="'Liberation Sans', sans-serif" font-size="15.5" font-weight="bold" font-style="normal" text-anchor="middle" fill="#000" transform="translate(1322.30 144.60) rotate(-90)" stroke="#000" stroke-width="0.2">Relative mRNA expression</text>
<text x="0.00" y="0.00" font-family="'Liberation Sans', sans-serif" font-size="14" font-weight="bold" font-style="normal" text-anchor="middle" fill="#000" transform="translate(1411.90 262.10) scale(0.94 1)" stroke="#000" stroke-width="0.35">AML12</text>
<text x="0.00" y="0.00" font-family="'Liberation Sans', sans-serif" font-size="14" font-weight="bold" font-style="normal" text-anchor="middle" fill="#000" transform="translate(1548.60 262.10) scale(0.94 1)" stroke="#000" stroke-width="0.35">HepG2</text>
<rect x="993.89" y="523.20" width="13.52" height="66.20" fill="#d6d6d6" stroke="#000" stroke-width="2.2"/>
<rect x="1017.17" y="512.40" width="13.27" height="77.00" fill="#cc2563" stroke="#000" stroke-width="2.2"/>
<rect x="1040.20" y="544.20" width="13.52" height="45.20" fill="#4a7d7e" stroke="#000" stroke-width="2.2"/>
<rect x="1063.48" y="550.00" width="13.52" height="39.40" fill="#3b2e6b" stroke="#000" stroke-width="2.2"/>
<rect x="1086.76" y="525.40" width="13.27" height="64.00" fill="#7f6aae" stroke="#000" stroke-width="2.2"/>
<rect x="1125.56" y="493.70" width="13.27" height="95.70" fill="#d6d6d6" stroke="#000" stroke-width="2.2"/>
<rect x="1148.84" y="477.60" width="13.27" height="111.80" fill="#cc2563" stroke="#000" stroke-width="2.2"/>
<rect x="1172.11" y="492.40" width="13.27" height="97.00" fill="#4a7d7e" stroke="#000" stroke-width="2.2"/>
<rect x="1195.39" y="497.40" width="13.27" height="92.00" fill="#3b2e6b" stroke="#000" stroke-width="2.2"/>
<rect x="1218.42" y="491.70" width="13.52" height="97.70" fill="#7f6aae" stroke="#000" stroke-width="2.2"/>
<line x1="1000.65" y1="512.60" x2="1000.65" y2="523.00" stroke="#000" stroke-width="1.0" stroke-linecap="butt"/>
<line x1="996.65" y1="512.60" x2="1004.65" y2="512.60" stroke="#000" stroke-width="1.0" stroke-linecap="butt"/>
<line x1="1023.93" y1="505.60" x2="1023.93" y2="512.00" stroke="#000" stroke-width="1.0" stroke-linecap="butt"/>
<line x1="1019.93" y1="505.60" x2="1027.93" y2="505.60" stroke="#000" stroke-width="1.0" stroke-linecap="butt"/>
<line x1="1046.96" y1="540.00" x2="1046.96" y2="544.00" stroke="#000" stroke-width="1.0" stroke-linecap="butt"/>
<line x1="1042.96" y1="540.00" x2="1050.96" y2="540.00" stroke="#000" stroke-width="1.0" stroke-linecap="butt"/>
<line x1="1070.24" y1="545.00" x2="1070.24" y2="549.00" stroke="#000" stroke-width="1.0" stroke-linecap="butt"/>
<line x1="1066.24" y1="545.00" x2="1074.24" y2="545.00" stroke="#000" stroke-width="1.0" stroke-linecap="butt"/>
<line x1="1093.52" y1="518.10" x2="1093.52" y2="525.00" stroke="#000" stroke-width="1.0" stroke-linecap="butt"/>
<line x1="1089.52" y1="518.10" x2="1097.52" y2="518.10" stroke="#000" stroke-width="1.0" stroke-linecap="butt"/>
<line x1="1132.07" y1="488.00" x2="1132.07" y2="493.00" stroke="#000" stroke-width="1.0" stroke-linecap="butt"/>
<line x1="1128.07" y1="488.00" x2="1136.07" y2="488.00" stroke="#000" stroke-width="1.0" stroke-linecap="butt"/>
<line x1="1155.34" y1="461.80" x2="1155.34" y2="477.00" stroke="#000" stroke-width="1.0" stroke-linecap="butt"/>
<line x1="1151.34" y1="461.80" x2="1159.34" y2="461.80" stroke="#000" stroke-width="1.0" stroke-linecap="butt"/>
<line x1="1178.62" y1="486.00" x2="1178.62" y2="492.00" stroke="#000" stroke-width="1.0" stroke-linecap="butt"/>
<line x1="1174.62" y1="486.00" x2="1182.62" y2="486.00" stroke="#000" stroke-width="1.0" stroke-linecap="butt"/>
<line x1="1201.90" y1="492.50" x2="1201.90" y2="497.00" stroke="#000" stroke-width="1.0" stroke-linecap="butt"/>
<line x1="1197.90" y1="492.50" x2="1205.90" y2="492.50" stroke="#000" stroke-width="1.0" stroke-linecap="butt"/>
<line x1="1224.93" y1="473.30" x2="1224.93" y2="491.00" stroke="#000" stroke-width="1.0" stroke-linecap="butt"/>
<line x1="1220.93" y1="473.30" x2="1228.93" y2="473.30" stroke="#000" stroke-width="1.0" stroke-linecap="butt"/>
<line x1="985.10" y1="403.10" x2="985.10" y2="590.30" stroke="#000" stroke-width="1.6" stroke-linecap="butt"/>
<line x1="984.30" y1="589.70" x2="1241.00" y2="589.70" stroke="#000" stroke-width="1.8" stroke-linecap="butt"/>
<line x1="978.10" y1="403.60" x2="985.90" y2="403.60" stroke="#000" stroke-width="1.6" stroke-linecap="butt"/>
<text x="0.00" y="0.00" font-family="'Liberation Sans', sans-serif" font-size="13" font-weight="bold" font-style="normal" text-anchor="end" fill="#000" transform="translate(975.10 408.20) scale(0.92 1)" stroke="#000" stroke-width="0.35">2.0</text>
<line x1="978.10" y1="450.10" x2="985.90" y2="450.10" stroke="#000" stroke-width="1.6" stroke-linecap="butt"/>
<text x="0.00" y="0.00" font-family="'Liberation Sans', sans-serif" font-size="13" font-weight="bold" font-style="normal" text-anchor="end" fill="#000" transform="translate(975.10 454.70) scale(0.92 1)" stroke="#000" stroke-width="0.35">1.5</text>
<line x1="978.10" y1="496.90" x2="985.90" y2="496.90" stroke="#000" stroke-width="1.6" stroke-linecap="butt"/>
<text x="0.00" y="0.00" font-family="'Liberation Sans', sans-serif" font-size="13" font-weight="bold" font-style="normal" text-anchor="end" fill="#000" transform="translate(975.10 501.50) scale(0.92 1)" stroke="#000" stroke-width="0.35">1.0</text>
<line x1="978.10" y1="543.50" x2="985.90" y2="543.50" stroke="#000" stroke-width="1.6" stroke-linecap="butt"/>
<text x="0.00" y="0.00" font-family="'Liberation Sans', sans-serif" font-size="13" font-weight="bold" font-style="normal" text-anchor="end" fill="#000" transform="translate(975.10 548.10) scale(0.92 1)" stroke="#000" stroke-width="0.35">0.5</text>
<line x1="978.10" y1="589.70" x2="985.90" y2="589.70" stroke="#000" stroke-width="1.6" stroke-linecap="butt"/>
<text x="0.00" y="0.00" font-family="'Liberation Sans', sans-serif" font-size="13" font-weight="bold" font-style="normal" text-anchor="end" fill="#000" transform="translate(975.10 594.30) scale(0.92 1)" stroke="#000" stroke-width="0.35">0.0</text>
<line x1="1046.50" y1="589.70" x2="1046.50" y2="596.70" stroke="#000" stroke-width="1.7" stroke-linecap="butt"/>
<line x1="1177.90" y1="589.70" x2="1177.90" y2="596.70" stroke="#000" stroke-width="1.7" stroke-linecap="butt"/>
<ellipse cx="996.02" cy="501.81" rx="3.50" ry="3.50" fill="#fff" stroke="#000" stroke-width="1.5"/>
<ellipse cx="1000.40" cy="501.81" rx="3.50" ry="3.50" fill="#fff" stroke="#000" stroke-width="1.5"/>
<ellipse cx="1004.91" cy="501.81" rx="3.50" ry="3.50" fill="#fff" stroke="#000" stroke-width="1.5"/>
<ellipse cx="1000.40" cy="538.61" rx="3.50" ry="3.50" fill="#fff" stroke="#000" stroke-width="1.5"/>
<ellipse cx="996.40" cy="543.12" rx="3.50" ry="3.50" fill="#fff" stroke="#000" stroke-width="1.5"/>
<ellipse cx="1004.91" cy="543.12" rx="3.50" ry="3.50" fill="#fff" stroke="#000" stroke-width="1.5"/>
<ellipse cx="1022.18" cy="495.06" rx="3.50" ry="3.50" fill="#fff" stroke="#000" stroke-width="1.5"/>
<ellipse cx="1025.18" cy="494.56" rx="3.50" ry="3.50" fill="#fff" stroke="#000" stroke-width="1.5"/>
<ellipse cx="1019.42" cy="520.84" rx="3.50" ry="3.50" fill="#fff" stroke="#000" stroke-width="1.5"/>
<ellipse cx="1023.93" cy="522.59" rx="3.50" ry="3.50" fill="#fff" stroke="#000" stroke-width="1.5"/>
<ellipse cx="1027.68" cy="516.58" rx="3.50" ry="3.50" fill="#fff" stroke="#000" stroke-width="1.5"/>
<ellipse cx="1023.68" cy="515.58" rx="3.50" ry="3.50" fill="#fff" stroke="#000" stroke-width="1.5"/>
<ellipse cx="1042.45" cy="532.60" rx="3.50" ry="3.50" fill="#fff" stroke="#000" stroke-width="1.5"/>
<ellipse cx="1051.46" cy="532.60" rx="3.50" ry="3.50" fill="#fff" stroke="#000" stroke-width="1.5"/>
<ellipse cx="1042.45" cy="546.37" rx="3.50" ry="3.50" fill="#fff" stroke="#000" stroke-width="1.5"/>
<ellipse cx="1051.46" cy="546.37" rx="3.50" ry="3.50" fill="#fff" stroke="#000" stroke-width="1.5"/>
<ellipse cx="1042.45" cy="563.14" rx="3.50" ry="3.50" fill="#fff" stroke="#000" stroke-width="1.5"/>
<ellipse cx="1051.46" cy="563.14" rx="3.50" ry="3.50" fill="#fff" stroke="#000" stroke-width="1.5"/>
<ellipse cx="1068.99" cy="540.11" rx="3.50" ry="3.50" fill="#fff" stroke="#000" stroke-width="1.5"/>
<ellipse cx="1065.48" cy="545.12" rx="3.50" ry="3.50" fill="#fff" stroke="#000" stroke-width="1.5"/>
<ellipse cx="1072.74" cy="544.62" rx="3.50" ry="3.50" fill="#fff" stroke="#000" stroke-width="1.5"/>
<ellipse cx="1075.49" cy="545.87" rx="3.50" ry="3.50" fill="#fff" stroke="#000" stroke-width="1.5"/>
<ellipse cx="1068.99" cy="558.14" rx="3.50" ry="3.50" fill="#fff" stroke="#000" stroke-width="1.5"/>
<ellipse cx="1071.49" cy="557.63" rx="3.50" ry="3.50" fill="#fff" stroke="#000" stroke-width="1.5"/>
<ellipse cx="1089.26" cy="505.57" rx="3.50" ry="3.50" fill="#fff" stroke="#000" stroke-width="1.5"/>
<ellipse cx="1097.77" cy="505.57" rx="3.50" ry="3.50" fill="#fff" stroke="#000" stroke-width="1.5"/>
<ellipse cx="1089.26" cy="524.34" rx="3.50" ry="3.50" fill="#fff" stroke="#000" stroke-width="1.5"/>
<ellipse cx="1097.77" cy="524.34" rx="3.50" ry="3.50" fill="#fff" stroke="#000" stroke-width="1.5"/>
<ellipse cx="1089.26" cy="548.87" rx="3.50" ry="3.50" fill="#fff" stroke="#000" stroke-width="1.5"/>
<ellipse cx="1097.77" cy="548.87" rx="3.50" ry="3.50" fill="#fff" stroke="#000" stroke-width="1.5"/>
<ellipse cx="1132.07" cy="478.79" rx="3.50" ry="3.50" fill="#fff" stroke="#000" stroke-width="1.5"/>
<ellipse cx="1132.07" cy="486.80" rx="3.50" ry="3.50" fill="#fff" stroke="#000" stroke-width="1.5"/>
<ellipse cx="1132.07" cy="497.06" rx="3.50" ry="3.50" fill="#fff" stroke="#000" stroke-width="1.5"/>
<ellipse cx="1132.07" cy="506.32" rx="3.50" ry="3.50" fill="#fff" stroke="#000" stroke-width="1.5"/>
<ellipse cx="1155.34" cy="435.11" rx="3.50" ry="3.50" fill="#fff" stroke="#000" stroke-width="1.5"/>
<ellipse cx="1150.84" cy="484.29" rx="3.50" ry="3.50" fill="#fff" stroke="#000" stroke-width="1.5"/>
<ellipse cx="1159.85" cy="485.54" rx="3.50" ry="3.50" fill="#fff" stroke="#000" stroke-width="1.5"/>
<ellipse cx="1155.34" cy="501.81" rx="3.50" ry="3.50" fill="#fff" stroke="#000" stroke-width="1.5"/>
<ellipse cx="1174.12" cy="483.04" rx="3.50" ry="3.50" fill="#fff" stroke="#000" stroke-width="1.5"/>
<ellipse cx="1182.88" cy="482.54" rx="3.50" ry="3.50" fill="#fff" stroke="#000" stroke-width="1.5"/>
<ellipse cx="1174.12" cy="498.31" rx="3.50" ry="3.50" fill="#fff" stroke="#000" stroke-width="1.5"/>
<ellipse cx="1182.88" cy="496.56" rx="3.50" ry="3.50" fill="#fff" stroke="#000" stroke-width="1.5"/>
<ellipse cx="1201.65" cy="484.29" rx="3.50" ry="3.50" fill="#fff" stroke="#000" stroke-width="1.5"/>
<ellipse cx="1197.15" cy="498.31" rx="3.50" ry="3.50" fill="#fff" stroke="#000" stroke-width="1.5"/>
<ellipse cx="1206.16" cy="498.31" rx="3.50" ry="3.50" fill="#fff" stroke="#000" stroke-width="1.5"/>
<ellipse cx="1201.65" cy="507.57" rx="3.50" ry="3.50" fill="#fff" stroke="#000" stroke-width="1.5"/>
<ellipse cx="1224.93" cy="443.12" rx="3.50" ry="3.50" fill="#fff" stroke="#000" stroke-width="1.5"/>
<ellipse cx="1224.93" cy="493.05" rx="3.50" ry="3.50" fill="#fff" stroke="#000" stroke-width="1.5"/>
<ellipse cx="1224.93" cy="503.32" rx="3.50" ry="3.50" fill="#fff" stroke="#000" stroke-width="1.5"/>
<ellipse cx="1224.93" cy="521.84" rx="3.50" ry="3.50" fill="#fff" stroke="#000" stroke-width="1.5"/>
<text x="0.00" y="0.00" font-family="'Liberation Sans', sans-serif" font-size="11.5" font-weight="normal" font-style="normal" text-anchor="middle" fill="#000" transform="translate(1047.46 525.04) scale(0.92 1)" stroke="#000" stroke-width="0.4">##</text>
<text x="0.00" y="0.00" font-family="'Liberation Sans', sans-serif" font-size="11.5" font-weight="normal" font-style="normal" text-anchor="middle" fill="#000" transform="translate(1070.24 530.30) scale(0.92 1)" stroke="#000" stroke-width="0.4">##</text>
<text x="1113.00" y="379.30" font-family="'Liberation Sans', sans-serif" font-size="17.5" font-weight="normal" font-style="italic" text-anchor="middle" fill="#000" stroke="#000" stroke-width="0.75">Lxr/LXR</text>
<text x="0.00" y="0.00" font-family="'Liberation Sans', sans-serif" font-size="14.5" font-weight="bold" font-style="normal" text-anchor="middle" fill="#000" transform="translate(949.00 494.50) rotate(-90) scale(1.069 1)" stroke="#000" stroke-width="0.2">Relative mRNA expression</text>
<text x="0.00" y="0.00" font-family="'Liberation Sans', sans-serif" font-size="14" font-weight="bold" font-style="normal" text-anchor="middle" fill="#000" transform="translate(1046.50 612.70) scale(0.93 1)" stroke="#000" stroke-width="0.35">AML12</text>
<text x="0.00" y="0.00" font-family="'Liberation Sans', sans-serif" font-size="14" font-weight="bold" font-style="normal" text-anchor="middle" fill="#000" transform="translate(1177.90 612.70) scale(0.93 1)" stroke="#000" stroke-width="0.35">HepG2</text>
<rect x="1354.98" y="528.35" width="12.47" height="60.55" fill="#d6d6d6" stroke="#000" stroke-width="2.5"/>
<rect x="1376.76" y="475.55" width="12.72" height="113.35" fill="#cc2563" stroke="#000" stroke-width="2.5"/>
<rect x="1398.53" y="515.85" width="12.72" height="73.05" fill="#4a7d7e" stroke="#000" stroke-width="2.5"/>
<rect x="1420.31" y="516.85" width="12.72" height="72.05" fill="#3b2e6b" stroke="#000" stroke-width="2.5"/>
<rect x="1442.09" y="517.55" width="12.72" height="71.35" fill="#7f6aae" stroke="#000" stroke-width="2.5"/>
<rect x="1478.63" y="525.35" width="12.72" height="63.55" fill="#d6d6d6" stroke="#000" stroke-width="2.5"/>
<rect x="1500.41" y="480.05" width="12.72" height="108.85" fill="#cc2563" stroke="#000" stroke-width="2.5"/>
<rect x="1522.19" y="538.85" width="12.72" height="50.05" fill="#4a7d7e" stroke="#000" stroke-width="2.5"/>
<rect x="1543.97" y="514.35" width="12.72" height="74.55" fill="#3b2e6b" stroke="#000" stroke-width="2.5"/>
<rect x="1565.99" y="541.35" width="12.72" height="47.55" fill="#7f6aae" stroke="#000" stroke-width="2.5"/>
<line x1="1361.34" y1="520.80" x2="1361.34" y2="528.00" stroke="#000" stroke-width="1.0" stroke-linecap="butt"/>
<line x1="1357.84" y1="520.80" x2="1364.84" y2="520.80" stroke="#000" stroke-width="1.0" stroke-linecap="butt"/>
<line x1="1382.87" y1="454.30" x2="1382.87" y2="475.00" stroke="#000" stroke-width="1.0" stroke-linecap="butt"/>
<line x1="1379.37" y1="454.30" x2="1386.37" y2="454.30" stroke="#000" stroke-width="1.0" stroke-linecap="butt"/>
<line x1="1404.89" y1="510.00" x2="1404.89" y2="515.00" stroke="#000" stroke-width="1.0" stroke-linecap="butt"/>
<line x1="1401.39" y1="510.00" x2="1408.39" y2="510.00" stroke="#000" stroke-width="1.0" stroke-linecap="butt"/>
<line x1="1426.67" y1="508.30" x2="1426.67" y2="516.00" stroke="#000" stroke-width="1.0" stroke-linecap="butt"/>
<line x1="1423.17" y1="508.30" x2="1430.17" y2="508.30" stroke="#000" stroke-width="1.0" stroke-linecap="butt"/>
<line x1="1448.20" y1="511.30" x2="1448.20" y2="517.00" stroke="#000" stroke-width="1.0" stroke-linecap="butt"/>
<line x1="1444.70" y1="511.30" x2="1451.70" y2="511.30" stroke="#000" stroke-width="1.0" stroke-linecap="butt"/>
<line x1="1484.99" y1="511.60" x2="1484.99" y2="525.00" stroke="#000" stroke-width="1.0" stroke-linecap="butt"/>
<line x1="1481.49" y1="511.60" x2="1488.49" y2="511.60" stroke="#000" stroke-width="1.0" stroke-linecap="butt"/>
<line x1="1506.77" y1="473.80" x2="1506.77" y2="479.00" stroke="#000" stroke-width="1.0" stroke-linecap="butt"/>
<line x1="1503.27" y1="473.80" x2="1510.27" y2="473.80" stroke="#000" stroke-width="1.0" stroke-linecap="butt"/>
<line x1="1528.55" y1="529.10" x2="1528.55" y2="538.00" stroke="#000" stroke-width="1.0" stroke-linecap="butt"/>
<line x1="1525.05" y1="529.10" x2="1532.05" y2="529.10" stroke="#000" stroke-width="1.0" stroke-linecap="butt"/>
<line x1="1550.33" y1="505.00" x2="1550.33" y2="514.00" stroke="#000" stroke-width="1.0" stroke-linecap="butt"/>
<line x1="1546.83" y1="505.00" x2="1553.83" y2="505.00" stroke="#000" stroke-width="1.0" stroke-linecap="butt"/>
<line x1="1572.35" y1="532.00" x2="1572.35" y2="541.00" stroke="#000" stroke-width="1.0" stroke-linecap="butt"/>
<line x1="1568.85" y1="532.00" x2="1575.85" y2="532.00" stroke="#000" stroke-width="1.0" stroke-linecap="butt"/>
<line x1="1346.50" y1="405.10" x2="1346.50" y2="589.80" stroke="#000" stroke-width="2.5" stroke-linecap="butt"/>
<line x1="1340.00" y1="588.90" x2="1588.40" y2="588.90" stroke="#000" stroke-width="2.5" stroke-linecap="butt"/>
<line x1="1339.50" y1="406.10" x2="1347.75" y2="406.10" stroke="#000" stroke-width="1.8" stroke-linecap="butt"/>
<text x="0.00" y="0.00" font-family="'Liberation Sans', sans-serif" font-size="13.2" font-weight="bold" font-style="normal" text-anchor="end" fill="#000" transform="translate(1337.00 411.10) scale(0.82 1)" stroke="#000" stroke-width="0.2">2.0</text>
<line x1="1339.50" y1="452.10" x2="1347.75" y2="452.10" stroke="#000" stroke-width="1.8" stroke-linecap="butt"/>
<text x="0.00" y="0.00" font-family="'Liberation Sans', sans-serif" font-size="13.2" font-weight="bold" font-style="normal" text-anchor="end" fill="#000" transform="translate(1337.00 457.10) scale(0.82 1)" stroke="#000" stroke-width="0.2">1.5</text>
<line x1="1339.50" y1="497.70" x2="1347.75" y2="497.70" stroke="#000" stroke-width="1.8" stroke-linecap="butt"/>
<text x="0.00" y="0.00" font-family="'Liberation Sans', sans-serif" font-size="13.2" font-weight="bold" font-style="normal" text-anchor="end" fill="#000" transform="translate(1337.00 502.70) scale(0.82 1)" stroke="#000" stroke-width="0.2">1.0</text>
<line x1="1339.50" y1="543.20" x2="1347.75" y2="543.20" stroke="#000" stroke-width="1.8" stroke-linecap="butt"/>
<text x="0.00" y="0.00" font-family="'Liberation Sans', sans-serif" font-size="13.2" font-weight="bold" font-style="normal" text-anchor="end" fill="#000" transform="translate(1337.00 548.20) scale(0.82 1)" stroke="#000" stroke-width="0.2">0.5</text>
<line x1="1339.50" y1="588.90" x2="1347.75" y2="588.90" stroke="#000" stroke-width="1.8" stroke-linecap="butt"/>
<text x="0.00" y="0.00" font-family="'Liberation Sans', sans-serif" font-size="13.2" font-weight="bold" font-style="normal" text-anchor="end" fill="#000" transform="translate(1337.00 593.90) scale(0.82 1)" stroke="#000" stroke-width="0.2">0.0</text>
<line x1="1404.40" y1="588.90" x2="1404.40" y2="595.90" stroke="#000" stroke-width="2.2" stroke-linecap="butt"/>
<line x1="1528.00" y1="588.90" x2="1528.00" y2="595.90" stroke="#000" stroke-width="2.2" stroke-linecap="butt"/>
<ellipse cx="1361.34" cy="507.07" rx="3.00" ry="3.45" fill="#fff" stroke="#000" stroke-width="1.5"/>
<ellipse cx="1361.34" cy="516.58" rx="3.00" ry="3.45" fill="#fff" stroke="#000" stroke-width="1.5"/>
<ellipse cx="1361.34" cy="529.85" rx="3.00" ry="3.45" fill="#fff" stroke="#000" stroke-width="1.5"/>
<ellipse cx="1357.08" cy="541.36" rx="3.00" ry="3.45" fill="#fff" stroke="#000" stroke-width="1.5"/>
<ellipse cx="1365.34" cy="541.36" rx="3.00" ry="3.45" fill="#fff" stroke="#000" stroke-width="1.5"/>
<ellipse cx="1382.87" cy="422.59" rx="3.00" ry="3.45" fill="#fff" stroke="#000" stroke-width="1.5"/>
<ellipse cx="1382.87" cy="436.86" rx="3.00" ry="3.45" fill="#fff" stroke="#000" stroke-width="1.5"/>
<ellipse cx="1382.87" cy="485.04" rx="3.00" ry="3.45" fill="#fff" stroke="#000" stroke-width="1.5"/>
<ellipse cx="1382.87" cy="502.32" rx="3.00" ry="3.45" fill="#fff" stroke="#000" stroke-width="1.5"/>
<ellipse cx="1382.87" cy="523.59" rx="3.00" ry="3.45" fill="#fff" stroke="#000" stroke-width="1.5"/>
<ellipse cx="1404.64" cy="501.06" rx="3.00" ry="3.45" fill="#fff" stroke="#000" stroke-width="1.5"/>
<ellipse cx="1404.64" cy="511.33" rx="3.00" ry="3.45" fill="#fff" stroke="#000" stroke-width="1.5"/>
<ellipse cx="1400.64" cy="519.59" rx="3.00" ry="3.45" fill="#fff" stroke="#000" stroke-width="1.5"/>
<ellipse cx="1408.65" cy="518.84" rx="3.00" ry="3.45" fill="#fff" stroke="#000" stroke-width="1.5"/>
<ellipse cx="1404.64" cy="517.08" rx="3.00" ry="3.45" fill="#fff" stroke="#000" stroke-width="1.5"/>
<ellipse cx="1422.67" cy="499.31" rx="3.00" ry="3.45" fill="#fff" stroke="#000" stroke-width="1.5"/>
<ellipse cx="1430.93" cy="499.31" rx="3.00" ry="3.45" fill="#fff" stroke="#000" stroke-width="1.5"/>
<ellipse cx="1422.67" cy="519.59" rx="3.00" ry="3.45" fill="#fff" stroke="#000" stroke-width="1.5"/>
<ellipse cx="1430.93" cy="524.34" rx="3.00" ry="3.45" fill="#fff" stroke="#000" stroke-width="1.5"/>
<ellipse cx="1426.67" cy="532.60" rx="3.00" ry="3.45" fill="#fff" stroke="#000" stroke-width="1.5"/>
<ellipse cx="1444.69" cy="509.32" rx="3.00" ry="3.45" fill="#fff" stroke="#000" stroke-width="1.5"/>
<ellipse cx="1452.70" cy="505.57" rx="3.00" ry="3.45" fill="#fff" stroke="#000" stroke-width="1.5"/>
<ellipse cx="1444.69" cy="516.58" rx="3.00" ry="3.45" fill="#fff" stroke="#000" stroke-width="1.5"/>
<ellipse cx="1444.69" cy="525.09" rx="3.00" ry="3.45" fill="#fff" stroke="#000" stroke-width="1.5"/>
<ellipse cx="1452.70" cy="522.09" rx="3.00" ry="3.45" fill="#fff" stroke="#000" stroke-width="1.5"/>
<ellipse cx="1484.74" cy="479.29" rx="3.00" ry="3.45" fill="#fff" stroke="#000" stroke-width="1.5"/>
<ellipse cx="1484.74" cy="522.09" rx="3.00" ry="3.45" fill="#fff" stroke="#000" stroke-width="1.5"/>
<ellipse cx="1480.49" cy="534.61" rx="3.00" ry="3.45" fill="#fff" stroke="#000" stroke-width="1.5"/>
<ellipse cx="1489.25" cy="537.11" rx="3.00" ry="3.45" fill="#fff" stroke="#000" stroke-width="1.5"/>
<ellipse cx="1484.74" cy="546.37" rx="3.00" ry="3.45" fill="#fff" stroke="#000" stroke-width="1.5"/>
<ellipse cx="1502.27" cy="467.52" rx="3.00" ry="3.45" fill="#fff" stroke="#000" stroke-width="1.5"/>
<ellipse cx="1511.03" cy="468.77" rx="3.00" ry="3.45" fill="#fff" stroke="#000" stroke-width="1.5"/>
<ellipse cx="1502.27" cy="478.79" rx="3.00" ry="3.45" fill="#fff" stroke="#000" stroke-width="1.5"/>
<ellipse cx="1511.03" cy="480.54" rx="3.00" ry="3.45" fill="#fff" stroke="#000" stroke-width="1.5"/>
<ellipse cx="1506.77" cy="495.56" rx="3.00" ry="3.45" fill="#fff" stroke="#000" stroke-width="1.5"/>
<ellipse cx="1528.30" cy="511.33" rx="3.00" ry="3.45" fill="#fff" stroke="#000" stroke-width="1.5"/>
<ellipse cx="1532.80" cy="533.10" rx="3.00" ry="3.45" fill="#fff" stroke="#000" stroke-width="1.5"/>
<ellipse cx="1524.54" cy="538.86" rx="3.00" ry="3.45" fill="#fff" stroke="#000" stroke-width="1.5"/>
<ellipse cx="1532.80" cy="543.87" rx="3.00" ry="3.45" fill="#fff" stroke="#000" stroke-width="1.5"/>
<ellipse cx="1528.30" cy="555.88" rx="3.00" ry="3.45" fill="#fff" stroke="#000" stroke-width="1.5"/>
<ellipse cx="1550.58" cy="489.55" rx="3.00" ry="3.45" fill="#fff" stroke="#000" stroke-width="1.5"/>
<ellipse cx="1554.83" cy="508.07" rx="3.00" ry="3.45" fill="#fff" stroke="#000" stroke-width="1.5"/>
<ellipse cx="1546.07" cy="513.08" rx="3.00" ry="3.45" fill="#fff" stroke="#000" stroke-width="1.5"/>
<ellipse cx="1554.83" cy="520.59" rx="3.00" ry="3.45" fill="#fff" stroke="#000" stroke-width="1.5"/>
<ellipse cx="1550.58" cy="531.85" rx="3.00" ry="3.45" fill="#fff" stroke="#000" stroke-width="1.5"/>
<ellipse cx="1568.35" cy="524.34" rx="3.00" ry="3.45" fill="#fff" stroke="#000" stroke-width="1.5"/>
<ellipse cx="1576.61" cy="530.10" rx="3.00" ry="3.45" fill="#fff" stroke="#000" stroke-width="1.5"/>
<ellipse cx="1568.35" cy="533.10" rx="3.00" ry="3.45" fill="#fff" stroke="#000" stroke-width="1.5"/>
<ellipse cx="1572.35" cy="551.88" rx="3.00" ry="3.45" fill="#fff" stroke="#000" stroke-width="1.5"/>
<ellipse cx="1572.35" cy="560.89" rx="3.00" ry="3.45" fill="#fff" stroke="#000" stroke-width="1.5"/>
<text x="0.00" y="0.00" font-family="'Liberation Sans', sans-serif" font-size="13.5" font-weight="normal" font-style="normal" text-anchor="middle" fill="#000" transform="translate(1382.87 420.28) scale(0.85 1)" stroke="#000" stroke-width="0.15">***</text>
<text x="0.00" y="0.00" font-family="'Liberation Sans', sans-serif" font-size="11.5" font-weight="normal" font-style="normal" text-anchor="middle" fill="#000" transform="translate(1404.89 494.76) scale(0.8 1)" stroke="#000" stroke-width="0.4">##</text>
<text x="0.00" y="0.00" font-family="'Liberation Sans', sans-serif" font-size="11.5" font-weight="normal" font-style="normal" text-anchor="middle" fill="#000" transform="translate(1426.67 492.75) scale(0.8 1)" stroke="#000" stroke-width="0.4">##</text>
<text x="0.00" y="0.00" font-family="'Liberation Sans', sans-serif" font-size="11.5" font-weight="normal" font-style="normal" text-anchor="middle" fill="#000" transform="translate(1448.20 499.76) scale(0.8 1)" stroke="#000" stroke-width="0.4">##</text>
<text x="0.00" y="0.00" font-family="'Liberation Sans', sans-serif" font-size="13.5" font-weight="normal" font-style="normal" text-anchor="middle" fill="#000" transform="translate(1506.77 465.72) scale(0.85 1)" stroke="#000" stroke-width="0.15">***</text>
<text x="0.00" y="0.00" font-family="'Liberation Sans', sans-serif" font-size="11.5" font-weight="normal" font-style="normal" text-anchor="middle" fill="#000" transform="translate(1529.55 506.02) scale(0.8 1)" stroke="#000" stroke-width="0.4">###</text>
<text x="0.00" y="0.00" font-family="'Liberation Sans', sans-serif" font-size="11.5" font-weight="normal" font-style="normal" text-anchor="middle" fill="#000" transform="translate(1551.08 483.49) scale(0.8 1)" stroke="#000" stroke-width="0.4">#</text>
<text x="0.00" y="0.00" font-family="'Liberation Sans', sans-serif" font-size="11.5" font-weight="normal" font-style="normal" text-anchor="middle" fill="#000" transform="translate(1572.35 519.79) scale(0.8 1)" stroke="#000" stroke-width="0.4">###</text>
<text x="0.00" y="0.00" font-family="'Liberation Sans', sans-serif" font-size="17.5" font-weight="bold" font-style="italic" text-anchor="middle" fill="#000" transform="translate(1468.00 378.10) scale(0.86 1)" stroke="#000" stroke-width="0.35">Lpcat3/LPCAT3</text>
<text x="0.00" y="0.00" font-family="'Liberation Sans', sans-serif" font-size="13.2" font-weight="bold" font-style="normal" text-anchor="middle" fill="#000" transform="translate(1313.60 495.50) rotate(-90) scale(1.16 1)" stroke="#000" stroke-width="0.2">Relative mRNA expression</text>
<text x="0.00" y="0.00" font-family="'Liberation Sans', sans-serif" font-size="13.5" font-weight="bold" font-style="normal" text-anchor="middle" fill="#000" transform="translate(1404.40 612.00) scale(0.85 1)" stroke="#000" stroke-width="0.2">AML12</text>
<text x="0.00" y="0.00" font-family="'Liberation Sans', sans-serif" font-size="13.5" font-weight="bold" font-style="normal" text-anchor="middle" fill="#000" transform="translate(1528.00 612.00) scale(0.85 1)" stroke="#000" stroke-width="0.2">HepG2</text>
<rect x="993.89" y="845.50" width="12.52" height="61.35" fill="#d6d6d6" stroke="#000" stroke-width="2.2"/>
<rect x="1015.67" y="807.50" width="12.52" height="99.35" fill="#cc2563" stroke="#000" stroke-width="2.2"/>
<rect x="1037.45" y="834.80" width="12.52" height="72.05" fill="#4a7d7e" stroke="#000" stroke-width="2.2"/>
<rect x="1059.22" y="822.30" width="12.52" height="84.55" fill="#3b2e6b" stroke="#000" stroke-width="2.2"/>
<rect x="1081.00" y="819.80" width="12.77" height="87.05" fill="#7f6aae" stroke="#000" stroke-width="2.2"/>
<rect x="1117.05" y="817.80" width="12.52" height="89.05" fill="#d6d6d6" stroke="#000" stroke-width="2.2"/>
<rect x="1138.82" y="816.80" width="12.77" height="90.05" fill="#cc2563" stroke="#000" stroke-width="2.2"/>
<rect x="1160.60" y="823.80" width="12.77" height="83.05" fill="#4a7d7e" stroke="#000" stroke-width="2.2"/>
<rect x="1182.38" y="847.50" width="12.77" height="59.35" fill="#3b2e6b" stroke="#000" stroke-width="2.2"/>
<rect x="1204.15" y="832.30" width="12.77" height="74.55" fill="#7f6aae" stroke="#000" stroke-width="2.2"/>
<line x1="1000.15" y1="838.00" x2="1000.15" y2="845.00" stroke="#000" stroke-width="1.0" stroke-linecap="butt"/>
<line x1="996.65" y1="838.00" x2="1003.65" y2="838.00" stroke="#000" stroke-width="1.0" stroke-linecap="butt"/>
<line x1="1021.93" y1="775.30" x2="1021.93" y2="807.00" stroke="#000" stroke-width="1.0" stroke-linecap="butt"/>
<line x1="1018.43" y1="775.30" x2="1025.43" y2="775.30" stroke="#000" stroke-width="1.0" stroke-linecap="butt"/>
<line x1="1065.48" y1="815.00" x2="1065.48" y2="822.00" stroke="#000" stroke-width="1.0" stroke-linecap="butt"/>
<line x1="1061.98" y1="815.00" x2="1068.98" y2="815.00" stroke="#000" stroke-width="1.0" stroke-linecap="butt"/>
<line x1="1087.51" y1="812.00" x2="1087.51" y2="819.00" stroke="#000" stroke-width="1.0" stroke-linecap="butt"/>
<line x1="1084.01" y1="812.00" x2="1091.01" y2="812.00" stroke="#000" stroke-width="1.0" stroke-linecap="butt"/>
<line x1="1123.30" y1="789.10" x2="1123.30" y2="817.00" stroke="#000" stroke-width="1.0" stroke-linecap="butt"/>
<line x1="1119.80" y1="789.10" x2="1126.80" y2="789.10" stroke="#000" stroke-width="1.0" stroke-linecap="butt"/>
<line x1="1145.33" y1="803.60" x2="1145.33" y2="816.00" stroke="#000" stroke-width="1.0" stroke-linecap="butt"/>
<line x1="1141.83" y1="803.60" x2="1148.83" y2="803.60" stroke="#000" stroke-width="1.0" stroke-linecap="butt"/>
<line x1="1167.11" y1="802.40" x2="1167.11" y2="823.00" stroke="#000" stroke-width="1.0" stroke-linecap="butt"/>
<line x1="1163.61" y1="802.40" x2="1170.61" y2="802.40" stroke="#000" stroke-width="1.0" stroke-linecap="butt"/>
<line x1="1188.89" y1="831.20" x2="1188.89" y2="847.00" stroke="#000" stroke-width="1.0" stroke-linecap="butt"/>
<line x1="1185.39" y1="831.20" x2="1192.39" y2="831.20" stroke="#000" stroke-width="1.0" stroke-linecap="butt"/>
<line x1="985.60" y1="721.00" x2="985.60" y2="907.90" stroke="#000" stroke-width="1.3" stroke-linecap="butt"/>
<line x1="984.95" y1="907.30" x2="1226.00" y2="907.30" stroke="#000" stroke-width="1.7" stroke-linecap="butt"/>
<line x1="978.60" y1="721.50" x2="986.25" y2="721.50" stroke="#000" stroke-width="1.3" stroke-linecap="butt"/>
<text x="0.00" y="0.00" font-family="'Liberation Sans', sans-serif" font-size="13" font-weight="bold" font-style="normal" text-anchor="end" fill="#000" transform="translate(976.40 726.10) scale(0.85 1)" stroke="#000" stroke-width="0.35">2.5</text>
<line x1="978.60" y1="758.80" x2="986.25" y2="758.80" stroke="#000" stroke-width="1.3" stroke-linecap="butt"/>
<text x="0.00" y="0.00" font-family="'Liberation Sans', sans-serif" font-size="13" font-weight="bold" font-style="normal" text-anchor="end" fill="#000" transform="translate(976.40 763.40) scale(0.85 1)" stroke="#000" stroke-width="0.35">2.0</text>
<line x1="978.60" y1="796.10" x2="986.25" y2="796.10" stroke="#000" stroke-width="1.3" stroke-linecap="butt"/>
<text x="0.00" y="0.00" font-family="'Liberation Sans', sans-serif" font-size="13" font-weight="bold" font-style="normal" text-anchor="end" fill="#000" transform="translate(976.40 800.70) scale(0.85 1)" stroke="#000" stroke-width="0.35">1.5</text>
<line x1="978.60" y1="832.90" x2="986.25" y2="832.90" stroke="#000" stroke-width="1.3" stroke-linecap="butt"/>
<text x="0.00" y="0.00" font-family="'Liberation Sans', sans-serif" font-size="13" font-weight="bold" font-style="normal" text-anchor="end" fill="#000" transform="translate(976.40 837.50) scale(0.85 1)" stroke="#000" stroke-width="0.35">1.0</text>
<line x1="978.60" y1="870.20" x2="986.25" y2="870.20" stroke="#000" stroke-width="1.3" stroke-linecap="butt"/>
<text x="0.00" y="0.00" font-family="'Liberation Sans', sans-serif" font-size="13" font-weight="bold" font-style="normal" text-anchor="end" fill="#000" transform="translate(976.40 874.80) scale(0.85 1)" stroke="#000" stroke-width="0.35">0.5</text>
<line x1="978.60" y1="907.30" x2="986.25" y2="907.30" stroke="#000" stroke-width="1.3" stroke-linecap="butt"/>
<text x="0.00" y="0.00" font-family="'Liberation Sans', sans-serif" font-size="13" font-weight="bold" font-style="normal" text-anchor="end" fill="#000" transform="translate(976.40 911.90) scale(0.85 1)" stroke="#000" stroke-width="0.35">0.0</text>
<line x1="1043.20" y1="907.30" x2="1043.20" y2="914.30" stroke="#000" stroke-width="1.7" stroke-linecap="butt"/>
<line x1="1166.90" y1="907.30" x2="1166.90" y2="914.30" stroke="#000" stroke-width="1.7" stroke-linecap="butt"/>
<ellipse cx="995.89" cy="839.17" rx="3.05" ry="3.70" fill="#fff" stroke="#000" stroke-width="1.5"/>
<ellipse cx="1004.41" cy="833.67" rx="3.05" ry="3.70" fill="#fff" stroke="#000" stroke-width="1.5"/>
<ellipse cx="995.89" cy="852.44" rx="3.05" ry="3.70" fill="#fff" stroke="#000" stroke-width="1.5"/>
<ellipse cx="1004.41" cy="850.44" rx="3.05" ry="3.70" fill="#fff" stroke="#000" stroke-width="1.5"/>
<ellipse cx="1021.68" cy="761.08" rx="3.05" ry="3.70" fill="#fff" stroke="#000" stroke-width="1.5"/>
<ellipse cx="1017.92" cy="816.14" rx="3.05" ry="3.70" fill="#fff" stroke="#000" stroke-width="1.5"/>
<ellipse cx="1025.93" cy="819.40" rx="3.05" ry="3.70" fill="#fff" stroke="#000" stroke-width="1.5"/>
<ellipse cx="1017.92" cy="825.66" rx="3.05" ry="3.70" fill="#fff" stroke="#000" stroke-width="1.5"/>
<ellipse cx="1039.45" cy="835.67" rx="3.05" ry="3.70" fill="#fff" stroke="#000" stroke-width="1.5"/>
<ellipse cx="1042.70" cy="831.91" rx="3.05" ry="3.70" fill="#fff" stroke="#000" stroke-width="1.5"/>
<ellipse cx="1047.21" cy="830.91" rx="3.05" ry="3.70" fill="#fff" stroke="#000" stroke-width="1.5"/>
<ellipse cx="1044.46" cy="833.67" rx="3.05" ry="3.70" fill="#fff" stroke="#000" stroke-width="1.5"/>
<ellipse cx="1065.23" cy="811.89" rx="3.05" ry="3.70" fill="#fff" stroke="#000" stroke-width="1.5"/>
<ellipse cx="1061.48" cy="825.16" rx="3.05" ry="3.70" fill="#fff" stroke="#000" stroke-width="1.5"/>
<ellipse cx="1065.73" cy="821.15" rx="3.05" ry="3.70" fill="#fff" stroke="#000" stroke-width="1.5"/>
<ellipse cx="1069.49" cy="822.65" rx="3.05" ry="3.70" fill="#fff" stroke="#000" stroke-width="1.5"/>
<ellipse cx="1083.25" cy="813.64" rx="3.05" ry="3.70" fill="#fff" stroke="#000" stroke-width="1.5"/>
<ellipse cx="1091.51" cy="809.14" rx="3.05" ry="3.70" fill="#fff" stroke="#000" stroke-width="1.5"/>
<ellipse cx="1091.51" cy="821.65" rx="3.05" ry="3.70" fill="#fff" stroke="#000" stroke-width="1.5"/>
<ellipse cx="1083.25" cy="828.16" rx="3.05" ry="3.70" fill="#fff" stroke="#000" stroke-width="1.5"/>
<ellipse cx="1123.30" cy="776.34" rx="3.05" ry="3.70" fill="#fff" stroke="#000" stroke-width="1.5"/>
<ellipse cx="1123.30" cy="824.90" rx="3.05" ry="3.70" fill="#fff" stroke="#000" stroke-width="1.5"/>
<ellipse cx="1119.30" cy="831.66" rx="3.05" ry="3.70" fill="#fff" stroke="#000" stroke-width="1.5"/>
<ellipse cx="1127.56" cy="830.91" rx="3.05" ry="3.70" fill="#fff" stroke="#000" stroke-width="1.5"/>
<ellipse cx="1141.08" cy="802.88" rx="3.05" ry="3.70" fill="#fff" stroke="#000" stroke-width="1.5"/>
<ellipse cx="1149.34" cy="799.37" rx="3.05" ry="3.70" fill="#fff" stroke="#000" stroke-width="1.5"/>
<ellipse cx="1145.33" cy="825.41" rx="3.05" ry="3.70" fill="#fff" stroke="#000" stroke-width="1.5"/>
<ellipse cx="1145.33" cy="833.92" rx="3.05" ry="3.70" fill="#fff" stroke="#000" stroke-width="1.5"/>
<ellipse cx="1162.85" cy="811.39" rx="3.05" ry="3.70" fill="#fff" stroke="#000" stroke-width="1.5"/>
<ellipse cx="1171.36" cy="804.63" rx="3.05" ry="3.70" fill="#fff" stroke="#000" stroke-width="1.5"/>
<ellipse cx="1167.11" cy="823.65" rx="3.05" ry="3.70" fill="#fff" stroke="#000" stroke-width="1.5"/>
<ellipse cx="1167.11" cy="849.44" rx="3.05" ry="3.70" fill="#fff" stroke="#000" stroke-width="1.5"/>
<ellipse cx="1193.14" cy="830.66" rx="3.05" ry="3.70" fill="#fff" stroke="#000" stroke-width="1.5"/>
<ellipse cx="1184.63" cy="837.42" rx="3.05" ry="3.70" fill="#fff" stroke="#000" stroke-width="1.5"/>
<ellipse cx="1184.63" cy="858.70" rx="3.05" ry="3.70" fill="#fff" stroke="#000" stroke-width="1.5"/>
<ellipse cx="1193.14" cy="858.20" rx="3.05" ry="3.70" fill="#fff" stroke="#000" stroke-width="1.5"/>
<ellipse cx="1214.92" cy="821.90" rx="3.05" ry="3.70" fill="#fff" stroke="#000" stroke-width="1.5"/>
<ellipse cx="1210.91" cy="826.16" rx="3.05" ry="3.70" fill="#fff" stroke="#000" stroke-width="1.5"/>
<ellipse cx="1206.66" cy="830.16" rx="3.05" ry="3.70" fill="#fff" stroke="#000" stroke-width="1.5"/>
<ellipse cx="1214.92" cy="829.41" rx="3.05" ry="3.70" fill="#fff" stroke="#000" stroke-width="1.5"/>
<text x="0.00" y="0.00" font-family="'Liberation Sans', sans-serif" font-size="13.0" font-weight="normal" font-style="normal" text-anchor="middle" fill="#000" transform="translate(1022.43 744.00) scale(0.88 1)" stroke="#000" stroke-width="0.15">**</text>
<text x="0.00" y="0.00" font-family="'Liberation Sans', sans-serif" font-size="11.5" font-weight="normal" font-style="normal" text-anchor="middle" fill="#000" transform="translate(1189.14 820.60) scale(0.8 1)" stroke="#000" stroke-width="0.4">##</text>
<text x="0.00" y="0.00" font-family="'Liberation Sans', sans-serif" font-size="18" font-weight="bold" font-style="normal" text-anchor="middle" fill="#000" transform="translate(1105.30 696.20) scale(0.85 1)">LXR/β-actin</text>
<text x="0.00" y="0.00" font-family="'Liberation Sans', sans-serif" font-size="13.5" font-weight="bold" font-style="normal" text-anchor="middle" fill="#000" transform="translate(951.60 813.00) rotate(-90) scale(1.145 1)" stroke="#000" stroke-width="0.2">Relative protein expression</text>
<text x="0.00" y="0.00" font-family="'Liberation Sans', sans-serif" font-size="13.5" font-weight="bold" font-style="normal" text-anchor="middle" fill="#000" transform="translate(1043.20 930.00) scale(0.88 1)" stroke="#000" stroke-width="0.35">AML12</text>
<text x="0.00" y="0.00" font-family="'Liberation Sans', sans-serif" font-size="13.5" font-weight="bold" font-style="normal" text-anchor="middle" fill="#000" transform="translate(1166.90 930.00) scale(0.88 1)" stroke="#000" stroke-width="0.35">HepG2</text>
<rect x="1355.58" y="824.80" width="13.27" height="82.05" fill="#d6d6d6" stroke="#000" stroke-width="2.2"/>
<rect x="1378.86" y="795.50" width="13.27" height="111.35" fill="#cc2563" stroke="#000" stroke-width="2.2"/>
<rect x="1402.14" y="798.00" width="13.27" height="108.85" fill="#4a7d7e" stroke="#000" stroke-width="2.2"/>
<rect x="1425.42" y="793.50" width="13.27" height="113.35" fill="#3b2e6b" stroke="#000" stroke-width="2.2"/>
<rect x="1448.70" y="796.00" width="13.27" height="110.85" fill="#7f6aae" stroke="#000" stroke-width="2.2"/>
<rect x="1487.00" y="768.20" width="13.27" height="138.65" fill="#d6d6d6" stroke="#000" stroke-width="2.2"/>
<rect x="1510.27" y="760.70" width="13.27" height="146.15" fill="#cc2563" stroke="#000" stroke-width="2.2"/>
<rect x="1533.55" y="762.70" width="13.27" height="144.15" fill="#4a7d7e" stroke="#000" stroke-width="2.2"/>
<rect x="1556.83" y="788.50" width="13.27" height="118.35" fill="#3b2e6b" stroke="#000" stroke-width="2.2"/>
<rect x="1580.11" y="776.70" width="13.27" height="130.15" fill="#7f6aae" stroke="#000" stroke-width="2.2"/>
<line x1="1362.09" y1="818.00" x2="1362.09" y2="824.00" stroke="#000" stroke-width="1.0" stroke-linecap="butt"/>
<line x1="1358.09" y1="818.00" x2="1366.09" y2="818.00" stroke="#000" stroke-width="1.0" stroke-linecap="butt"/>
<line x1="1385.37" y1="789.00" x2="1385.37" y2="795.00" stroke="#000" stroke-width="1.0" stroke-linecap="butt"/>
<line x1="1381.37" y1="789.00" x2="1389.37" y2="789.00" stroke="#000" stroke-width="1.0" stroke-linecap="butt"/>
<line x1="1408.90" y1="790.00" x2="1408.90" y2="797.00" stroke="#000" stroke-width="1.0" stroke-linecap="butt"/>
<line x1="1404.90" y1="790.00" x2="1412.90" y2="790.00" stroke="#000" stroke-width="1.0" stroke-linecap="butt"/>
<line x1="1432.18" y1="788.00" x2="1432.18" y2="793.00" stroke="#000" stroke-width="1.0" stroke-linecap="butt"/>
<line x1="1428.18" y1="788.00" x2="1436.18" y2="788.00" stroke="#000" stroke-width="1.0" stroke-linecap="butt"/>
<line x1="1517.03" y1="753.00" x2="1517.03" y2="760.00" stroke="#000" stroke-width="1.0" stroke-linecap="butt"/>
<line x1="1513.03" y1="753.00" x2="1521.03" y2="753.00" stroke="#000" stroke-width="1.0" stroke-linecap="butt"/>
<line x1="1540.31" y1="758.60" x2="1540.31" y2="762.00" stroke="#000" stroke-width="1.0" stroke-linecap="butt"/>
<line x1="1536.81" y1="758.60" x2="1543.81" y2="758.60" stroke="#000" stroke-width="1.0" stroke-linecap="butt"/>
<line x1="1586.87" y1="772.60" x2="1586.87" y2="776.00" stroke="#000" stroke-width="1.0" stroke-linecap="butt"/>
<line x1="1583.37" y1="772.60" x2="1590.37" y2="772.60" stroke="#000" stroke-width="1.0" stroke-linecap="butt"/>
<line x1="1346.50" y1="721.00" x2="1346.50" y2="907.90" stroke="#000" stroke-width="1.3" stroke-linecap="butt"/>
<line x1="1345.85" y1="907.30" x2="1603.40" y2="907.30" stroke="#000" stroke-width="1.7" stroke-linecap="butt"/>
<line x1="1339.50" y1="721.50" x2="1347.15" y2="721.50" stroke="#000" stroke-width="1.3" stroke-linecap="butt"/>
<text x="0.00" y="0.00" font-family="'Liberation Sans', sans-serif" font-size="13" font-weight="bold" font-style="normal" text-anchor="end" fill="#000" transform="translate(1336.50 726.50) scale(0.95 1)" stroke="#000" stroke-width="0.35">1.5</text>
<line x1="1339.50" y1="783.40" x2="1347.15" y2="783.40" stroke="#000" stroke-width="1.3" stroke-linecap="butt"/>
<text x="0.00" y="0.00" font-family="'Liberation Sans', sans-serif" font-size="13" font-weight="bold" font-style="normal" text-anchor="end" fill="#000" transform="translate(1336.50 788.40) scale(0.95 1)" stroke="#000" stroke-width="0.35">1.0</text>
<line x1="1339.50" y1="845.40" x2="1347.15" y2="845.40" stroke="#000" stroke-width="1.3" stroke-linecap="butt"/>
<text x="0.00" y="0.00" font-family="'Liberation Sans', sans-serif" font-size="13" font-weight="bold" font-style="normal" text-anchor="end" fill="#000" transform="translate(1336.50 850.40) scale(0.95 1)" stroke="#000" stroke-width="0.35">0.5</text>
<line x1="1339.50" y1="907.30" x2="1347.15" y2="907.30" stroke="#000" stroke-width="1.3" stroke-linecap="butt"/>
<text x="0.00" y="0.00" font-family="'Liberation Sans', sans-serif" font-size="13" font-weight="bold" font-style="normal" text-anchor="end" fill="#000" transform="translate(1336.50 912.30) scale(0.95 1)" stroke="#000" stroke-width="0.35">0.0</text>
<line x1="1408.10" y1="907.30" x2="1408.10" y2="914.30" stroke="#000" stroke-width="1.7" stroke-linecap="butt"/>
<line x1="1539.80" y1="907.30" x2="1539.80" y2="914.30" stroke="#000" stroke-width="1.7" stroke-linecap="butt"/>
<ellipse cx="1362.09" cy="815.39" rx="3.50" ry="3.50" fill="#fff" stroke="#000" stroke-width="1.5"/>
<ellipse cx="1366.60" cy="824.40" rx="3.50" ry="3.50" fill="#fff" stroke="#000" stroke-width="1.5"/>
<ellipse cx="1357.58" cy="828.66" rx="3.50" ry="3.50" fill="#fff" stroke="#000" stroke-width="1.5"/>
<ellipse cx="1385.37" cy="786.61" rx="3.50" ry="3.50" fill="#fff" stroke="#000" stroke-width="1.5"/>
<ellipse cx="1381.11" cy="797.37" rx="3.50" ry="3.50" fill="#fff" stroke="#000" stroke-width="1.5"/>
<ellipse cx="1389.87" cy="796.37" rx="3.50" ry="3.50" fill="#fff" stroke="#000" stroke-width="1.5"/>
<ellipse cx="1408.90" cy="789.11" rx="3.50" ry="3.50" fill="#fff" stroke="#000" stroke-width="1.5"/>
<ellipse cx="1404.39" cy="800.87" rx="3.50" ry="3.50" fill="#fff" stroke="#000" stroke-width="1.5"/>
<ellipse cx="1413.15" cy="800.37" rx="3.50" ry="3.50" fill="#fff" stroke="#000" stroke-width="1.5"/>
<ellipse cx="1427.67" cy="787.86" rx="3.50" ry="3.50" fill="#fff" stroke="#000" stroke-width="1.5"/>
<ellipse cx="1436.43" cy="791.36" rx="3.50" ry="3.50" fill="#fff" stroke="#000" stroke-width="1.5"/>
<ellipse cx="1427.67" cy="796.37" rx="3.50" ry="3.50" fill="#fff" stroke="#000" stroke-width="1.5"/>
<ellipse cx="1455.21" cy="789.36" rx="3.50" ry="3.50" fill="#fff" stroke="#000" stroke-width="1.5"/>
<ellipse cx="1450.70" cy="795.12" rx="3.50" ry="3.50" fill="#fff" stroke="#000" stroke-width="1.5"/>
<ellipse cx="1459.71" cy="794.37" rx="3.50" ry="3.50" fill="#fff" stroke="#000" stroke-width="1.5"/>
<ellipse cx="1493.75" cy="763.08" rx="3.50" ry="3.50" fill="#fff" stroke="#000" stroke-width="1.5"/>
<ellipse cx="1489.25" cy="768.58" rx="3.50" ry="3.50" fill="#fff" stroke="#000" stroke-width="1.5"/>
<ellipse cx="1498.26" cy="767.08" rx="3.50" ry="3.50" fill="#fff" stroke="#000" stroke-width="1.5"/>
<ellipse cx="1517.03" cy="752.31" rx="3.50" ry="3.50" fill="#fff" stroke="#000" stroke-width="1.5"/>
<ellipse cx="1512.53" cy="762.83" rx="3.50" ry="3.50" fill="#fff" stroke="#000" stroke-width="1.5"/>
<ellipse cx="1521.54" cy="762.33" rx="3.50" ry="3.50" fill="#fff" stroke="#000" stroke-width="1.5"/>
<ellipse cx="1536.06" cy="757.82" rx="3.50" ry="3.50" fill="#fff" stroke="#000" stroke-width="1.5"/>
<ellipse cx="1544.57" cy="764.08" rx="3.50" ry="3.50" fill="#fff" stroke="#000" stroke-width="1.5"/>
<ellipse cx="1536.06" cy="766.08" rx="3.50" ry="3.50" fill="#fff" stroke="#000" stroke-width="1.5"/>
<ellipse cx="1559.09" cy="788.36" rx="3.50" ry="3.50" fill="#fff" stroke="#000" stroke-width="1.5"/>
<ellipse cx="1563.59" cy="786.86" rx="3.50" ry="3.50" fill="#fff" stroke="#000" stroke-width="1.5"/>
<ellipse cx="1568.10" cy="786.86" rx="3.50" ry="3.50" fill="#fff" stroke="#000" stroke-width="1.5"/>
<ellipse cx="1582.37" cy="769.84" rx="3.50" ry="3.50" fill="#fff" stroke="#000" stroke-width="1.5"/>
<ellipse cx="1591.13" cy="776.84" rx="3.50" ry="3.50" fill="#fff" stroke="#000" stroke-width="1.5"/>
<ellipse cx="1582.37" cy="778.85" rx="3.50" ry="3.50" fill="#fff" stroke="#000" stroke-width="1.5"/>
<text x="0.00" y="0.00" font-family="'Liberation Sans', sans-serif" font-size="12.0" font-weight="normal" font-style="normal" text-anchor="middle" fill="#000" transform="translate(1385.37 785.10) scale(0.92 1)" stroke="#000" stroke-width="0.15">***</text>
<text x="0.00" y="0.00" font-family="'Liberation Sans', sans-serif" font-size="11.5" font-weight="normal" font-style="normal" text-anchor="middle" fill="#000" transform="translate(1564.09 780.55) scale(0.92 1)" stroke="#000" stroke-width="0.4">###</text>
<text x="0.00" y="0.00" font-family="'Liberation Sans', sans-serif" font-size="11.5" font-weight="normal" font-style="normal" text-anchor="middle" fill="#000" transform="translate(1586.87 764.28) scale(0.92 1)" stroke="#000" stroke-width="0.4">##</text>
<text x="0.00" y="0.00" font-family="'Liberation Sans', sans-serif" font-size="17.5" font-weight="bold" font-style="normal" text-anchor="middle" fill="#000" transform="translate(1475.10 696.50) scale(0.945 1)">LPCAT3/β-actin</text>
<text x="0.00" y="0.00" font-family="'Liberation Sans', sans-serif" font-size="13.5" font-weight="bold" font-style="normal" text-anchor="middle" fill="#000" transform="translate(1310.50 811.80) rotate(-90) scale(1.143 1)" stroke="#000" stroke-width="0.2">Relative mRNA expression</text>
<text x="1408.10" y="930.00" font-family="'Liberation Sans', sans-serif" font-size="13.5" font-weight="bold" font-style="normal" text-anchor="middle" fill="#000" stroke="#000" stroke-width="0.35">AML12</text>
<text x="1539.80" y="930.00" font-family="'Liberation Sans', sans-serif" font-size="13.5" font-weight="bold" font-style="normal" text-anchor="middle" fill="#000" stroke="#000" stroke-width="0.35">HepG2</text>
<rect x="1641.90" y="21.40" width="15.00" height="6.80" fill="#d6d6d6" stroke="#000" stroke-width="2.4"/>
<text x="0.00" y="0.00" font-family="'Liberation Sans', sans-serif" font-size="14" font-weight="normal" font-style="normal" text-anchor="start" fill="#000" transform="translate(1667.60 29.20) scale(0.96 1)">Con</text>
<rect x="1641.90" y="43.20" width="15.00" height="6.80" fill="#cc2563" stroke="#000" stroke-width="2.4"/>
<text x="0.00" y="0.00" font-family="'Liberation Sans', sans-serif" font-size="14" font-weight="normal" font-style="normal" text-anchor="start" fill="#000" transform="translate(1667.60 53.50) scale(0.96 1)">Ethanol</text>
<rect x="1641.90" y="64.70" width="15.00" height="6.80" fill="#4a7d7e" stroke="#000" stroke-width="2.4"/>
<text x="0.00" y="0.00" font-family="'Liberation Sans', sans-serif" font-size="14" font-weight="normal" font-style="normal" text-anchor="start" fill="#000" transform="translate(1667.60 72.50) scale(0.96 1)">Ethanol+QGHXR</text>
<rect x="1641.90" y="86.20" width="15.00" height="6.80" fill="#3b2e6b" stroke="#000" stroke-width="2.4"/>
<text x="0.00" y="0.00" font-family="'Liberation Sans', sans-serif" font-size="14" font-weight="normal" font-style="normal" text-anchor="start" fill="#000" transform="translate(1667.60 94.10) scale(0.96 1)">Ethanol+QGR</text>
<rect x="1641.90" y="107.85" width="15.00" height="6.80" fill="#7f6aae" stroke="#000" stroke-width="2.4"/>
<text x="0.00" y="0.00" font-family="'Liberation Sans', sans-serif" font-size="14" font-weight="normal" font-style="normal" text-anchor="start" fill="#000" transform="translate(1667.60 115.70) scale(0.96 1)">Ethanol+HXR</text>
<rect x="1641.90" y="375.10" width="15.00" height="6.80" fill="#d6d6d6" stroke="#000" stroke-width="2.4"/>
<text x="0.00" y="0.00" font-family="'Liberation Sans', sans-serif" font-size="14" font-weight="normal" font-style="normal" text-anchor="start" fill="#000" transform="translate(1667.60 382.80) scale(0.96 1)">Con</text>
<rect x="1641.90" y="396.90" width="15.00" height="6.80" fill="#cc2563" stroke="#000" stroke-width="2.4"/>
<text x="0.00" y="0.00" font-family="'Liberation Sans', sans-serif" font-size="14" font-weight="normal" font-style="normal" text-anchor="start" fill="#000" transform="translate(1667.60 404.70) scale(0.96 1)">Ethanol</text>
<rect x="1641.90" y="418.50" width="15.00" height="6.80" fill="#4a7d7e" stroke="#000" stroke-width="2.4"/>
<text x="0.00" y="0.00" font-family="'Liberation Sans', sans-serif" font-size="14" font-weight="normal" font-style="normal" text-anchor="start" fill="#000" transform="translate(1667.60 426.40) scale(0.96 1)">Ethanol+QGHXR</text>
<rect x="1641.90" y="439.90" width="15.00" height="6.80" fill="#3b2e6b" stroke="#000" stroke-width="2.4"/>
<text x="0.00" y="0.00" font-family="'Liberation Sans', sans-serif" font-size="14" font-weight="normal" font-style="normal" text-anchor="start" fill="#000" transform="translate(1667.60 447.90) scale(0.96 1)">Ethanol+QGR</text>
<rect x="1641.90" y="461.50" width="15.00" height="6.80" fill="#7f6aae" stroke="#000" stroke-width="2.4"/>
<text x="0.00" y="0.00" font-family="'Liberation Sans', sans-serif" font-size="14" font-weight="normal" font-style="normal" text-anchor="start" fill="#000" transform="translate(1667.60 469.30) scale(0.96 1)">Ethanol+HXR</text>
<defs><filter id="b1" x="-20%" y="-50%" width="140%" height="200%"><feGaussianBlur stdDeviation="1.5"/></filter><filter id="b15" x="-20%" y="-60%" width="140%" height="220%"><feGaussianBlur stdDeviation="2.0 1.5"/></filter><filter id="b2" x="-30%" y="-80%" width="160%" height="260%"><feGaussianBlur stdDeviation="2.6"/></filter><filter id="b3" x="-40%" y="-100%" width="180%" height="300%"><feGaussianBlur stdDeviation="3.6"/></filter><filter id="b5" x="-50%" y="-150%" width="200%" height="400%"><feGaussianBlur stdDeviation="5"/></filter><linearGradient id="gA2" x1="0" y1="0" x2="0" y2="1"><stop offset="0" stop-color="#e9e9e9"/><stop offset="0.22" stop-color="#c6c6c6"/><stop offset="0.65" stop-color="#9c9c9c"/><stop offset="0.86" stop-color="#646464"/><stop offset="1" stop-color="#262626"/></linearGradient><linearGradient id="gH2" x1="0" y1="0" x2="0" y2="1"><stop offset="0" stop-color="#a8a8a8"/><stop offset="0.2" stop-color="#8e8e8e"/><stop offset="0.75" stop-color="#707070"/><stop offset="1" stop-color="#484848"/></linearGradient><linearGradient id="gH2b" x1="0" y1="0" x2="1" y2="0"><stop offset="0" stop-color="#000" stop-opacity="0.5"/><stop offset="0.5" stop-color="#000" stop-opacity="0.45"/><stop offset="0.66" stop-color="#000" stop-opacity="0"/><stop offset="1" stop-color="#000" stop-opacity="0"/></linearGradient><linearGradient id="gL" x1="0" y1="0" x2="0" y2="1"><stop offset="0" stop-color="#e4e4e4"/><stop offset="0.5" stop-color="#ededed"/><stop offset="1" stop-color="#f6f6f6"/></linearGradient></defs>
<clipPath id="cl1"><rect x="181.00" y="504.00" width="318.00" height="33.00"/></clipPath>
<rect x="181.00" y="504.00" width="318.00" height="33.00" fill="#f1f1f1" stroke="none" stroke-width="0"/>
<g clip-path="url(#cl1)">
<rect x="187.28" y="503.76" width="57.64" height="37.59" rx="18.80" fill="#555" opacity="0.7" filter="url(#b3)"/>
<rect x="252.44" y="506.27" width="56.39" height="35.09" rx="17.54" fill="#555" opacity="0.7" filter="url(#b3)"/>
<rect x="316.35" y="507.52" width="51.38" height="33.83" rx="16.92" fill="#555" opacity="0.65" filter="url(#b3)"/>
<rect x="383.86" y="512.53" width="43.86" height="28.82" rx="14.41" fill="#555" opacity="0.7" filter="url(#b3)"/>
<rect x="439.00" y="512.53" width="53.88" height="22.56" rx="11.28" fill="#555" opacity="0.65" filter="url(#b3)"/>
<rect x="192.29" y="521.30" width="33.83" height="10.03" rx="5.01" fill="#3a3a3a" opacity="0.9" filter="url(#b2)"/>
<rect x="262.47" y="523.81" width="18.80" height="8.77" rx="4.39" fill="#2a2a2a" opacity="0.9" filter="url(#b2)"/>
<rect x="191.66" y="506.89" width="48.25" height="18.80" rx="9.40" fill="#060606" opacity="1" filter="url(#b1)"/>
<rect x="190.41" y="526.57" width="45.74" height="16.04" rx="8.02" fill="#060606" opacity="1" filter="url(#b1)"/>
<rect x="256.20" y="509.77" width="47.62" height="19.05" rx="9.52" fill="#060606" opacity="1" filter="url(#b1)"/>
<rect x="262.47" y="525.06" width="22.56" height="17.54" rx="8.77" fill="#060606" opacity="1" filter="url(#b1)"/>
<rect x="320.74" y="510.65" width="42.61" height="16.92" rx="8.46" fill="#060606" opacity="1" filter="url(#b1)"/>
<rect x="323.87" y="532.08" width="31.33" height="10.53" rx="5.26" fill="#060606" opacity="1" filter="url(#b1)"/>
<rect x="388.25" y="516.29" width="24.44" height="11.90" rx="5.95" fill="#060606" opacity="1" filter="url(#b1)"/>
<rect x="395.14" y="521.93" width="28.20" height="14.66" rx="7.33" fill="#060606" opacity="1" filter="url(#b1)"/>
<rect x="444.01" y="516.04" width="44.49" height="15.29" rx="7.64" fill="#060606" opacity="1" filter="url(#b1)"/>
</g>
<rect x="181.50" y="504.50" width="317.00" height="32.00" fill="none" stroke="#231815" stroke-width="1.0"/>
<clipPath id="cl2"><rect x="181.00" y="553.00" width="318.00" height="33.00"/></clipPath>
<rect x="181.00" y="553.00" width="318.00" height="33.00" fill="url(#gA2)" stroke="none" stroke-width="0"/>
<g clip-path="url(#cl2)">
<ellipse cx="187.0" cy="561.0" rx="18" ry="12" fill="#f2f2f2" opacity="0.8" filter="url(#b3)"/>
<rect x="193.54" y="561.40" width="47.62" height="13.78" rx="6.89" fill="#555" opacity="0.6" filter="url(#b3)"/>
<rect x="254.95" y="561.40" width="47.62" height="13.78" rx="6.89" fill="#555" opacity="0.6" filter="url(#b3)"/>
<rect x="316.35" y="562.03" width="47.62" height="13.16" rx="6.58" fill="#555" opacity="0.6" filter="url(#b3)"/>
<rect x="380.10" y="561.40" width="45.11" height="13.78" rx="6.89" fill="#555" opacity="0.6" filter="url(#b3)"/>
<rect x="439.00" y="561.40" width="47.62" height="13.78" rx="6.89" fill="#555" opacity="0.6" filter="url(#b3)"/>
<rect x="176.00" y="576.44" width="112.78" height="11.28" rx="5.64" fill="#333" opacity="0.45" filter="url(#b3)"/>
<rect x="194.80" y="562.03" width="17.54" height="10.65" rx="5.33" fill="#666" opacity="0.55" filter="url(#b2)"/>
<rect x="217.35" y="561.40" width="23.81" height="13.78" rx="6.89" fill="#2c2c2c" opacity="0.62" filter="url(#b2)"/>
<rect x="256.20" y="561.40" width="20.05" height="13.16" rx="6.58" fill="#333" opacity="0.6" filter="url(#b2)"/>
<rect x="280.01" y="562.03" width="22.56" height="13.16" rx="6.58" fill="#2c2c2c" opacity="0.62" filter="url(#b2)"/>
<rect x="313.84" y="555.14" width="16.92" height="6.89" rx="3.45" fill="#1c1c1c" opacity="0.8" filter="url(#b2)"/>
<rect x="317.60" y="562.66" width="23.81" height="12.53" rx="6.27" fill="#333" opacity="0.6" filter="url(#b2)"/>
<rect x="340.16" y="562.66" width="23.81" height="12.53" rx="6.27" fill="#3a3a3a" opacity="0.6" filter="url(#b2)"/>
<rect x="336.24" y="562.03" width="26.32" height="13.16" rx="6.58" fill="#3a3a3a" opacity="0.6" filter="url(#b2)"/>
<rect x="381.35" y="562.03" width="23.81" height="13.16" rx="6.58" fill="#303030" opacity="0.6" filter="url(#b2)"/>
<rect x="402.66" y="562.03" width="22.56" height="13.16" rx="6.58" fill="#3c3c3c" opacity="0.55" filter="url(#b2)"/>
<rect x="440.25" y="562.03" width="25.06" height="13.16" rx="6.58" fill="#303030" opacity="0.6" filter="url(#b2)"/>
<rect x="462.81" y="562.03" width="22.56" height="13.16" rx="6.58" fill="#3c3c3c" opacity="0.55" filter="url(#b2)"/>
</g>
<rect x="181.50" y="553.50" width="317.00" height="32.00" fill="none" stroke="#231815" stroke-width="1.0"/>
<clipPath id="cl3"><rect x="181.00" y="602.00" width="318.00" height="33.00"/></clipPath>
<rect x="181.00" y="602.00" width="318.00" height="33.00" fill="url(#gL)" stroke="none" stroke-width="0"/>
<g clip-path="url(#cl3)">
<ellipse cx="224.25" cy="620.13" rx="24.34" ry="5.10" fill="#060606" opacity="1" filter="url(#b15)"/>
<rect x="205.70" y="616.23" width="37.09" height="7.79" rx="3.89" fill="#060606" opacity="1" filter="url(#b15)"/>
<ellipse cx="286.28" cy="620.38" rx="23.68" ry="5.38" fill="#060606" opacity="1" filter="url(#b15)"/>
<rect x="268.23" y="616.27" width="36.09" height="8.21" rx="4.11" fill="#060606" opacity="1" filter="url(#b15)"/>
<ellipse cx="345.49" cy="620.25" rx="24.67" ry="5.51" fill="#060606" opacity="1" filter="url(#b15)"/>
<rect x="326.69" y="616.04" width="37.59" height="8.42" rx="4.21" fill="#060606" opacity="1" filter="url(#b15)"/>
<ellipse cx="406.91" cy="619.42" rx="24.71" ry="5.23" fill="#060606" opacity="1" filter="url(#b15)"/>
<rect x="388.09" y="615.43" width="37.65" height="7.99" rx="3.99" fill="#060606" opacity="1" filter="url(#b15)"/>
<ellipse cx="465.48" cy="619.30" rx="24.97" ry="5.09" fill="#060606" opacity="1" filter="url(#b15)"/>
<rect x="446.46" y="615.41" width="38.05" height="7.78" rx="3.89" fill="#060606" opacity="1" filter="url(#b15)"/>
</g>
<rect x="181.50" y="602.50" width="317.00" height="32.00" fill="none" stroke="#231815" stroke-width="1.0"/>
<clipPath id="cl4"><rect x="506.00" y="504.00" width="318.00" height="33.00"/></clipPath>
<rect x="506.00" y="504.00" width="318.00" height="33.00" fill="#f1f1f1" stroke="none" stroke-width="0"/>
<g clip-path="url(#cl4)">
<rect x="515.04" y="515.04" width="40.10" height="16.29" rx="8.15" fill="#888" opacity="0.4" filter="url(#b3)"/>
<rect x="572.68" y="513.78" width="46.37" height="20.05" rx="10.03" fill="#888" opacity="0.4" filter="url(#b3)"/>
<rect x="636.59" y="515.04" width="45.11" height="17.54" rx="8.77" fill="#888" opacity="0.4" filter="url(#b3)"/>
<ellipse cx="534.77" cy="523.18" rx="17.43" ry="5.24" fill="#060606" opacity="1" filter="url(#b15)"/>
<rect x="521.49" y="519.18" width="26.57" height="8.00" rx="4.00" fill="#060606" opacity="1" filter="url(#b15)"/>
<ellipse cx="595.86" cy="524.12" rx="20.39" ry="7.24" fill="#060606" opacity="1" filter="url(#b15)"/>
<rect x="580.33" y="518.60" width="31.08" height="11.05" rx="5.53" fill="#060606" opacity="1" filter="url(#b15)"/>
<ellipse cx="659.15" cy="524.06" rx="19.74" ry="5.51" fill="#060606" opacity="1" filter="url(#b15)"/>
<rect x="644.11" y="519.85" width="30.08" height="8.42" rx="4.21" fill="#060606" opacity="1" filter="url(#b15)"/>
<rect x="696.47" y="519.05" width="46.37" height="10.03" rx="5.01" fill="#666" opacity="0.85" filter="url(#b2)"/>
<rect x="760.38" y="518.30" width="50.13" height="11.53" rx="5.76" fill="#505050" opacity="0.85" filter="url(#b2)"/>
<rect x="782.93" y="520.68" width="23.81" height="6.89" rx="3.45" fill="#1a1a1a" opacity="0.7" filter="url(#b2)"/>
</g>
<rect x="506.50" y="504.50" width="317.00" height="32.00" fill="none" stroke="#231815" stroke-width="1.0"/>
<clipPath id="cl5"><rect x="506.00" y="553.00" width="318.00" height="33.00"/></clipPath>
<rect x="506.00" y="553.00" width="318.00" height="33.00" fill="url(#gH2)" stroke="none" stroke-width="0"/>
<g clip-path="url(#cl5)">
<rect x="506.00" y="553.00" width="318.00" height="33.00" fill="url(#gH2b)" stroke="none" stroke-width="0"/>
<polygon points="784.0,549.0 830.0,549.0 830.0,584.0" fill="#f6f6f6" filter="url(#b3)"/>
<rect x="510.03" y="562.03" width="47.62" height="13.78" rx="6.89" fill="#020202" opacity="1" filter="url(#b2)"/>
<rect x="571.43" y="561.40" width="47.62" height="15.04" rx="7.52" fill="#020202" opacity="1" filter="url(#b2)"/>
<rect x="632.21" y="562.03" width="49.50" height="13.16" rx="6.58" fill="#020202" opacity="1" filter="url(#b2)"/>
<rect x="695.21" y="563.28" width="22.56" height="8.77" rx="4.39" fill="#333" opacity="0.8" filter="url(#b2)"/>
<rect x="720.28" y="562.03" width="22.56" height="10.03" rx="5.01" fill="#262626" opacity="0.85" filter="url(#b2)"/>
<rect x="759.12" y="561.40" width="48.87" height="12.53" rx="6.27" fill="#101010" opacity="0.95" filter="url(#b2)"/>
</g>
<rect x="506.50" y="553.50" width="317.00" height="32.00" fill="none" stroke="#231815" stroke-width="1.0"/>
<clipPath id="cl6"><rect x="506.00" y="602.00" width="318.00" height="33.00"/></clipPath>
<rect x="506.00" y="602.00" width="318.00" height="33.00" fill="url(#gL)" stroke="none" stroke-width="0"/>
<g clip-path="url(#cl6)">
<ellipse cx="533.83" cy="619.97" rx="24.34" ry="4.96" fill="#060606" opacity="1" filter="url(#b15)"/>
<rect x="515.29" y="616.19" width="37.09" height="7.58" rx="3.79" fill="#060606" opacity="1" filter="url(#b15)"/>
<ellipse cx="592.11" cy="620.04" rx="23.68" ry="5.03" fill="#060606" opacity="1" filter="url(#b15)"/>
<rect x="574.06" y="616.20" width="36.09" height="7.68" rx="3.84" fill="#060606" opacity="1" filter="url(#b15)"/>
<ellipse cx="651.63" cy="619.41" rx="25.00" ry="5.72" fill="#060606" opacity="1" filter="url(#b15)"/>
<rect x="632.58" y="615.04" width="38.10" height="8.74" rx="4.37" fill="#060606" opacity="1" filter="url(#b15)"/>
<ellipse cx="711.50" cy="619.22" rx="22.37" ry="3.31" fill="#0c0c0c" opacity="0.9" filter="url(#b15)"/>
<rect x="694.46" y="616.70" width="34.09" height="5.05" rx="2.53" fill="#0c0c0c" opacity="0.9" filter="url(#b15)"/>
<ellipse cx="773.53" cy="618.22" rx="25.66" ry="4.14" fill="#080808" opacity="1" filter="url(#b15)"/>
<rect x="753.98" y="615.06" width="39.10" height="6.32" rx="3.16" fill="#080808" opacity="1" filter="url(#b15)"/>
</g>
<rect x="506.50" y="602.50" width="317.00" height="32.00" fill="none" stroke="#231815" stroke-width="1.0"/>
<text x="318.30" y="498.00" font-family="'Liberation Serif', serif" font-size="23.3" font-weight="normal" font-style="normal" text-anchor="middle" fill="#000">AML12</text>
<text x="657.70" y="498.00" font-family="'Liberation Serif', serif" font-size="23.3" font-weight="normal" font-style="normal" text-anchor="middle" fill="#000">HepG2</text>
<text x="170.30" y="537.10" font-family="'Liberation Serif', serif" font-size="23.3" font-weight="normal" font-style="normal" text-anchor="end" fill="#000">LXRα</text>
<text x="170.30" y="580.10" font-family="'Liberation Serif', serif" font-size="23.3" font-weight="normal" font-style="normal" text-anchor="end" fill="#000">LPCAT3</text>
<text x="170.00" y="624.00" font-family="'Liberation Serif', serif" font-size="23.3" font-weight="normal" font-style="normal" text-anchor="end" fill="#000">β-actin</text>
<text x="835.40" y="530.00" font-family="'Liberation Serif', serif" font-size="23.8" font-weight="normal" font-style="normal" text-anchor="start" fill="#000">50kDa</text>
<text x="835.40" y="579.00" font-family="'Liberation Serif', serif" font-size="23.8" font-weight="normal" font-style="normal" text-anchor="start" fill="#000">56kDa</text>
<text x="835.40" y="627.00" font-family="'Liberation Serif', serif" font-size="23.8" font-weight="normal" font-style="normal" text-anchor="start" fill="#000">42kDa</text>
<text x="171.80" y="673.00" font-family="'Liberation Serif', serif" font-size="23.6" font-weight="normal" font-style="normal" text-anchor="end" fill="#000">Ethanol(100 mM)</text>
<text x="170.00" y="716.40" font-family="'Liberation Serif', serif" font-size="23.3" font-weight="normal" font-style="normal" text-anchor="end" fill="#000">QGHXR</text>
<text x="169.00" y="759.40" font-family="'Liberation Serif', serif" font-size="23.3" font-weight="normal" font-style="normal" text-anchor="end" fill="#000">QGR</text>
<text x="169.00" y="802.20" font-family="'Liberation Serif', serif" font-size="23.3" font-weight="normal" font-style="normal" text-anchor="end" fill="#000">HXR</text>
<text x="221.80" y="672.87" font-family="'Liberation Serif', serif" font-size="22" font-weight="normal" font-style="normal" text-anchor="middle" fill="#000" stroke="#000" stroke-width="0.35">—</text>
<text x="287.40" y="678.76" font-family="'Liberation Serif', serif" font-size="35.4" font-weight="normal" font-style="normal" text-anchor="middle" fill="#000" stroke="#000" stroke-width="0.1">+</text>
<text x="346.40" y="678.76" font-family="'Liberation Serif', serif" font-size="35.4" font-weight="normal" font-style="normal" text-anchor="middle" fill="#000" stroke="#000" stroke-width="0.1">+</text>
<text x="407.50" y="678.76" font-family="'Liberation Serif', serif" font-size="35.4" font-weight="normal" font-style="normal" text-anchor="middle" fill="#000" stroke="#000" stroke-width="0.1">+</text>
<text x="465.80" y="678.76" font-family="'Liberation Serif', serif" font-size="35.4" font-weight="normal" font-style="normal" text-anchor="middle" fill="#000" stroke="#000" stroke-width="0.1">+</text>
<text x="532.10" y="672.87" font-family="'Liberation Serif', serif" font-size="22" font-weight="normal" font-style="normal" text-anchor="middle" fill="#000" stroke="#000" stroke-width="0.35">—</text>
<text x="591.40" y="678.76" font-family="'Liberation Serif', serif" font-size="35.4" font-weight="normal" font-style="normal" text-anchor="middle" fill="#000" stroke="#000" stroke-width="0.1">+</text>
<text x="653.30" y="678.76" font-family="'Liberation Serif', serif" font-size="35.4" font-weight="normal" font-style="normal" text-anchor="middle" fill="#000" stroke="#000" stroke-width="0.1">+</text>
<text x="709.30" y="678.76" font-family="'Liberation Serif', serif" font-size="35.4" font-weight="normal" font-style="normal" text-anchor="middle" fill="#000" stroke="#000" stroke-width="0.1">+</text>
<text x="770.90" y="678.76" font-family="'Liberation Serif', serif" font-size="35.4" font-weight="normal" font-style="normal" text-anchor="middle" fill="#000" stroke="#000" stroke-width="0.1">+</text>
<text x="221.80" y="712.77" font-family="'Liberation Serif', serif" font-size="22" font-weight="normal" font-style="normal" text-anchor="middle" fill="#000" stroke="#000" stroke-width="0.35">—</text>
<text x="287.40" y="712.77" font-family="'Liberation Serif', serif" font-size="22" font-weight="normal" font-style="normal" text-anchor="middle" fill="#000" stroke="#000" stroke-width="0.35">—</text>
<text x="346.40" y="719.21" font-family="'Liberation Serif', serif" font-size="35.4" font-weight="normal" font-style="normal" text-anchor="middle" fill="#000" stroke="#000" stroke-width="0.1">+</text>
<text x="407.50" y="712.77" font-family="'Liberation Serif', serif" font-size="22" font-weight="normal" font-style="normal" text-anchor="middle" fill="#000" stroke="#000" stroke-width="0.35">—</text>
<text x="465.80" y="712.77" font-family="'Liberation Serif', serif" font-size="22" font-weight="normal" font-style="normal" text-anchor="middle" fill="#000" stroke="#000" stroke-width="0.35">—</text>
<text x="532.10" y="712.77" font-family="'Liberation Serif', serif" font-size="22" font-weight="normal" font-style="normal" text-anchor="middle" fill="#000" stroke="#000" stroke-width="0.35">—</text>
<text x="591.40" y="712.77" font-family="'Liberation Serif', serif" font-size="22" font-weight="normal" font-style="normal" text-anchor="middle" fill="#000" stroke="#000" stroke-width="0.35">—</text>
<text x="653.30" y="719.21" font-family="'Liberation Serif', serif" font-size="35.4" font-weight="normal" font-style="normal" text-anchor="middle" fill="#000" stroke="#000" stroke-width="0.1">+</text>
<text x="709.30" y="712.77" font-family="'Liberation Serif', serif" font-size="22" font-weight="normal" font-style="normal" text-anchor="middle" fill="#000" stroke="#000" stroke-width="0.35">—</text>
<text x="770.90" y="712.77" font-family="'Liberation Serif', serif" font-size="22" font-weight="normal" font-style="normal" text-anchor="middle" fill="#000" stroke="#000" stroke-width="0.35">—</text>
<text x="221.80" y="755.87" font-family="'Liberation Serif', serif" font-size="22" font-weight="normal" font-style="normal" text-anchor="middle" fill="#000" stroke="#000" stroke-width="0.35">—</text>
<text x="287.40" y="755.87" font-family="'Liberation Serif', serif" font-size="22" font-weight="normal" font-style="normal" text-anchor="middle" fill="#000" stroke="#000" stroke-width="0.35">—</text>
<text x="346.40" y="755.87" font-family="'Liberation Serif', serif" font-size="22" font-weight="normal" font-style="normal" text-anchor="middle" fill="#000" stroke="#000" stroke-width="0.35">—</text>
<text x="407.50" y="762.06" font-family="'Liberation Serif', serif" font-size="35.4" font-weight="normal" font-style="normal" text-anchor="middle" fill="#000" stroke="#000" stroke-width="0.1">+</text>
<text x="465.80" y="755.87" font-family="'Liberation Serif', serif" font-size="22" font-weight="normal" font-style="normal" text-anchor="middle" fill="#000" stroke="#000" stroke-width="0.35">—</text>
<text x="532.10" y="755.87" font-family="'Liberation Serif', serif" font-size="22" font-weight="normal" font-style="normal" text-anchor="middle" fill="#000" stroke="#000" stroke-width="0.35">—</text>
<text x="591.40" y="755.87" font-family="'Liberation Serif', serif" font-size="22" font-weight="normal" font-style="normal" text-anchor="middle" fill="#000" stroke="#000" stroke-width="0.35">—</text>
<text x="653.30" y="755.87" font-family="'Liberation Serif', serif" font-size="22" font-weight="normal" font-style="normal" text-anchor="middle" fill="#000" stroke="#000" stroke-width="0.35">—</text>
<text x="709.30" y="762.06" font-family="'Liberation Serif', serif" font-size="35.4" font-weight="normal" font-style="normal" text-anchor="middle" fill="#000" stroke="#000" stroke-width="0.1">+</text>
<text x="770.90" y="755.87" font-family="'Liberation Serif', serif" font-size="22" font-weight="normal" font-style="normal" text-anchor="middle" fill="#000" stroke="#000" stroke-width="0.35">—</text>
<text x="221.80" y="795.67" font-family="'Liberation Serif', serif" font-size="22" font-weight="normal" font-style="normal" text-anchor="middle" fill="#000" stroke="#000" stroke-width="0.35">—</text>
<text x="287.40" y="795.67" font-family="'Liberation Serif', serif" font-size="22" font-weight="normal" font-style="normal" text-anchor="middle" fill="#000" stroke="#000" stroke-width="0.35">—</text>
<text x="346.40" y="795.67" font-family="'Liberation Serif', serif" font-size="22" font-weight="normal" font-style="normal" text-anchor="middle" fill="#000" stroke="#000" stroke-width="0.35">—</text>
<text x="407.50" y="795.67" font-family="'Liberation Serif', serif" font-size="22" font-weight="normal" font-style="normal" text-anchor="middle" fill="#000" stroke="#000" stroke-width="0.35">—</text>
<text x="465.80" y="802.56" font-family="'Liberation Serif', serif" font-size="35.4" font-weight="normal" font-style="normal" text-anchor="middle" fill="#000" stroke="#000" stroke-width="0.1">+</text>
<text x="532.10" y="795.67" font-family="'Liberation Serif', serif" font-size="22" font-weight="normal" font-style="normal" text-anchor="middle" fill="#000" stroke="#000" stroke-width="0.35">—</text>
<text x="591.40" y="795.67" font-family="'Liberation Serif', serif" font-size="22" font-weight="normal" font-style="normal" text-anchor="middle" fill="#000" stroke="#000" stroke-width="0.35">—</text>
<text x="653.30" y="795.67" font-family="'Liberation Serif', serif" font-size="22" font-weight="normal" font-style="normal" text-anchor="middle" fill="#000" stroke="#000" stroke-width="0.35">—</text>
<text x="709.30" y="795.67" font-family="'Liberation Serif', serif" font-size="22" font-weight="normal" font-style="normal" text-anchor="middle" fill="#000" stroke="#000" stroke-width="0.35">—</text>
<text x="770.90" y="802.56" font-family="'Liberation Serif', serif" font-size="35.4" font-weight="normal" font-style="normal" text-anchor="middle" fill="#000" stroke="#000" stroke-width="0.1">+</text>
</svg>
</body></html>
